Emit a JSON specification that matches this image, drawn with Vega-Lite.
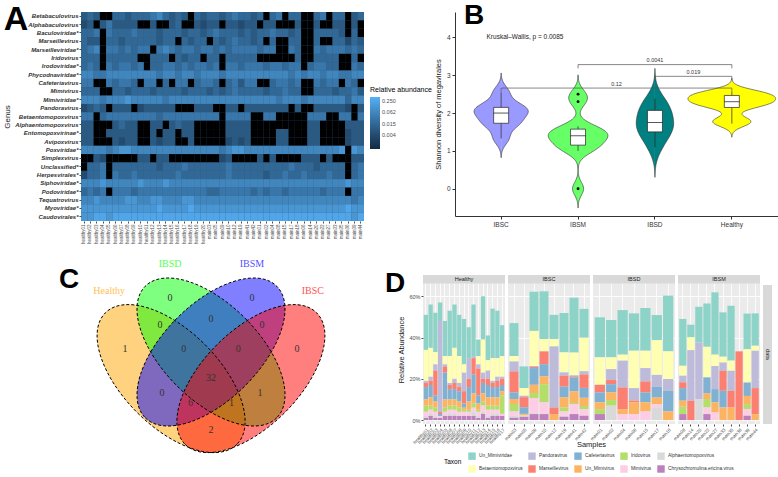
{
"$schema": "https://vega.github.io/schema/vega-lite/v6.json",
"padding": {"left": 3, "top": 2, "right": 0, "bottom": 0},
"config": {
  "font": "Liberation Sans",
  "view": {"stroke": null},
  "title": {"fontSize": 28, "fontWeight": "bold", "anchor": "start", "offset": 0, "color": "#000000"},
  "axis": {"labelColor": "#4D4D4D", "titleColor": "#1A1A1A", "titleFontWeight": "normal"},
  "legend": {"titleFontWeight": "normal"}
},
"datasets": {
"heat": [
{"r":1,"c":1,"v":4},{"r":1,"c":2,"v":5},{"r":1,"c":3,"v":4},{"r":1,"c":4,"v":0},{"r":1,"c":5,"v":0},{"r":1,"c":6,"v":5},{"r":1,"c":7,"v":5},{"r":1,"c":8,"v":4},{"r":1,"c":9,"v":5},{"r":1,"c":10,"v":5},{"r":1,"c":11,"v":5},{"r":1,"c":12,"v":6},{"r":1,"c":13,"v":7},{"r":1,"c":14,"v":5},{"r":1,"c":15,"v":4},{"r":1,"c":16,"v":5},{"r":1,"c":17,"v":4},{"r":1,"c":18,"v":0},{"r":1,"c":19,"v":5},{"r":1,"c":20,"v":4},{"r":1,"c":21,"v":5},{"r":1,"c":22,"v":5},{"r":1,"c":23,"v":4},{"r":1,"c":24,"v":5},{"r":1,"c":25,"v":6},{"r":1,"c":26,"v":5},{"r":1,"c":27,"v":5},{"r":1,"c":28,"v":4},{"r":1,"c":29,"v":5},{"r":1,"c":30,"v":0},{"r":1,"c":31,"v":5},{"r":1,"c":32,"v":6},{"r":1,"c":33,"v":0},{"r":1,"c":34,"v":5},{"r":1,"c":35,"v":5},{"r":1,"c":36,"v":0},{"r":1,"c":37,"v":0},{"r":1,"c":38,"v":5},{"r":1,"c":39,"v":6},{"r":1,"c":40,"v":0},{"r":1,"c":41,"v":5},{"r":1,"c":42,"v":5},{"r":1,"c":43,"v":0},{"r":1,"c":44,"v":4},{"r":1,"c":45,"v":5},
{"r":2,"c":1,"v":3},{"r":2,"c":2,"v":4},{"r":2,"c":3,"v":0},{"r":2,"c":4,"v":4},{"r":2,"c":5,"v":6},{"r":2,"c":6,"v":4},{"r":2,"c":7,"v":4},{"r":2,"c":8,"v":4},{"r":2,"c":9,"v":4},{"r":2,"c":10,"v":0},{"r":2,"c":11,"v":0},{"r":2,"c":12,"v":4},{"r":2,"c":13,"v":0},{"r":2,"c":14,"v":0},{"r":2,"c":15,"v":4},{"r":2,"c":16,"v":5},{"r":2,"c":17,"v":0},{"r":2,"c":18,"v":0},{"r":2,"c":19,"v":4},{"r":2,"c":20,"v":3},{"r":2,"c":21,"v":4},{"r":2,"c":22,"v":4},{"r":2,"c":23,"v":0},{"r":2,"c":24,"v":4},{"r":2,"c":25,"v":4},{"r":2,"c":26,"v":3},{"r":2,"c":27,"v":4},{"r":2,"c":28,"v":4},{"r":2,"c":29,"v":0},{"r":2,"c":30,"v":4},{"r":2,"c":31,"v":4},{"r":2,"c":32,"v":0},{"r":2,"c":33,"v":0},{"r":2,"c":34,"v":0},{"r":2,"c":35,"v":4},{"r":2,"c":36,"v":0},{"r":2,"c":37,"v":0},{"r":2,"c":38,"v":4},{"r":2,"c":39,"v":0},{"r":2,"c":40,"v":0},{"r":2,"c":41,"v":4},{"r":2,"c":42,"v":4},{"r":2,"c":43,"v":0},{"r":2,"c":44,"v":4},{"r":2,"c":45,"v":0},
{"r":3,"c":1,"v":5},{"r":3,"c":2,"v":5},{"r":3,"c":3,"v":6},{"r":3,"c":4,"v":0},{"r":3,"c":5,"v":6},{"r":3,"c":6,"v":5},{"r":3,"c":7,"v":5},{"r":3,"c":8,"v":5},{"r":3,"c":9,"v":6},{"r":3,"c":10,"v":5},{"r":3,"c":11,"v":5},{"r":3,"c":12,"v":5},{"r":3,"c":13,"v":4},{"r":3,"c":14,"v":5},{"r":3,"c":15,"v":5},{"r":3,"c":16,"v":5},{"r":3,"c":17,"v":4},{"r":3,"c":18,"v":5},{"r":3,"c":19,"v":5},{"r":3,"c":20,"v":4},{"r":3,"c":21,"v":5},{"r":3,"c":22,"v":6},{"r":3,"c":23,"v":5},{"r":3,"c":24,"v":5},{"r":3,"c":25,"v":5},{"r":3,"c":26,"v":4},{"r":3,"c":27,"v":5},{"r":3,"c":28,"v":4},{"r":3,"c":29,"v":5},{"r":3,"c":30,"v":5},{"r":3,"c":31,"v":6},{"r":3,"c":32,"v":5},{"r":3,"c":33,"v":5},{"r":3,"c":34,"v":4},{"r":3,"c":35,"v":5},{"r":3,"c":36,"v":0},{"r":3,"c":37,"v":0},{"r":3,"c":38,"v":5},{"r":3,"c":39,"v":5},{"r":3,"c":40,"v":5},{"r":3,"c":41,"v":5},{"r":3,"c":42,"v":4},{"r":3,"c":43,"v":0},{"r":3,"c":44,"v":5},{"r":3,"c":45,"v":0},
{"r":4,"c":1,"v":5},{"r":4,"c":2,"v":4},{"r":4,"c":3,"v":4},{"r":4,"c":4,"v":0},{"r":4,"c":5,"v":5},{"r":4,"c":6,"v":5},{"r":4,"c":7,"v":4},{"r":4,"c":8,"v":5},{"r":4,"c":9,"v":5},{"r":4,"c":10,"v":5},{"r":4,"c":11,"v":5},{"r":4,"c":12,"v":5},{"r":4,"c":13,"v":4},{"r":4,"c":14,"v":5},{"r":4,"c":15,"v":5},{"r":4,"c":16,"v":0},{"r":4,"c":17,"v":5},{"r":4,"c":18,"v":4},{"r":4,"c":19,"v":5},{"r":4,"c":20,"v":5},{"r":4,"c":21,"v":0},{"r":4,"c":22,"v":5},{"r":4,"c":23,"v":4},{"r":4,"c":24,"v":5},{"r":4,"c":25,"v":6},{"r":4,"c":26,"v":5},{"r":4,"c":27,"v":5},{"r":4,"c":28,"v":4},{"r":4,"c":29,"v":5},{"r":4,"c":30,"v":0},{"r":4,"c":31,"v":5},{"r":4,"c":32,"v":0},{"r":4,"c":33,"v":0},{"r":4,"c":34,"v":5},{"r":4,"c":35,"v":5},{"r":4,"c":36,"v":0},{"r":4,"c":37,"v":0},{"r":4,"c":38,"v":5},{"r":4,"c":39,"v":0},{"r":4,"c":40,"v":0},{"r":4,"c":41,"v":5},{"r":4,"c":42,"v":5},{"r":4,"c":43,"v":3},{"r":4,"c":44,"v":5},{"r":4,"c":45,"v":4},
{"r":5,"c":1,"v":5},{"r":5,"c":2,"v":6},{"r":5,"c":3,"v":7},{"r":5,"c":4,"v":0},{"r":5,"c":5,"v":6},{"r":5,"c":6,"v":6},{"r":5,"c":7,"v":5},{"r":5,"c":8,"v":6},{"r":5,"c":9,"v":5},{"r":5,"c":10,"v":6},{"r":5,"c":11,"v":6},{"r":5,"c":12,"v":0},{"r":5,"c":13,"v":6},{"r":5,"c":14,"v":7},{"r":5,"c":15,"v":6},{"r":5,"c":16,"v":5},{"r":5,"c":17,"v":6},{"r":5,"c":18,"v":6},{"r":5,"c":19,"v":5},{"r":5,"c":20,"v":6},{"r":5,"c":21,"v":6},{"r":5,"c":22,"v":5},{"r":5,"c":23,"v":6},{"r":5,"c":24,"v":5},{"r":5,"c":25,"v":6},{"r":5,"c":26,"v":6},{"r":5,"c":27,"v":6},{"r":5,"c":28,"v":6},{"r":5,"c":29,"v":5},{"r":5,"c":30,"v":6},{"r":5,"c":31,"v":6},{"r":5,"c":32,"v":0},{"r":5,"c":33,"v":0},{"r":5,"c":34,"v":6},{"r":5,"c":35,"v":5},{"r":5,"c":36,"v":0},{"r":5,"c":37,"v":0},{"r":5,"c":38,"v":6},{"r":5,"c":39,"v":5},{"r":5,"c":40,"v":6},{"r":5,"c":41,"v":6},{"r":5,"c":42,"v":6},{"r":5,"c":43,"v":5},{"r":5,"c":44,"v":6},{"r":5,"c":45,"v":5},
{"r":6,"c":1,"v":5},{"r":6,"c":2,"v":5},{"r":6,"c":3,"v":5},{"r":6,"c":4,"v":0},{"r":6,"c":5,"v":5},{"r":6,"c":6,"v":5},{"r":6,"c":7,"v":5},{"r":6,"c":8,"v":5},{"r":6,"c":9,"v":5},{"r":6,"c":10,"v":0},{"r":6,"c":11,"v":0},{"r":6,"c":12,"v":5},{"r":6,"c":13,"v":5},{"r":6,"c":14,"v":5},{"r":6,"c":15,"v":0},{"r":6,"c":16,"v":5},{"r":6,"c":17,"v":4},{"r":6,"c":18,"v":5},{"r":6,"c":19,"v":5},{"r":6,"c":20,"v":0},{"r":6,"c":21,"v":5},{"r":6,"c":22,"v":5},{"r":6,"c":23,"v":0},{"r":6,"c":24,"v":5},{"r":6,"c":25,"v":5},{"r":6,"c":26,"v":5},{"r":6,"c":27,"v":5},{"r":6,"c":28,"v":5},{"r":6,"c":29,"v":0},{"r":6,"c":30,"v":0},{"r":6,"c":31,"v":0},{"r":6,"c":32,"v":0},{"r":6,"c":33,"v":0},{"r":6,"c":34,"v":0},{"r":6,"c":35,"v":5},{"r":6,"c":36,"v":0},{"r":6,"c":37,"v":0},{"r":6,"c":38,"v":5},{"r":6,"c":39,"v":5},{"r":6,"c":40,"v":5},{"r":6,"c":41,"v":5},{"r":6,"c":42,"v":0},{"r":6,"c":43,"v":0},{"r":6,"c":44,"v":5},{"r":6,"c":45,"v":0},
{"r":7,"c":1,"v":5},{"r":7,"c":2,"v":6},{"r":7,"c":3,"v":5},{"r":7,"c":4,"v":0},{"r":7,"c":5,"v":6},{"r":7,"c":6,"v":5},{"r":7,"c":7,"v":6},{"r":7,"c":8,"v":6},{"r":7,"c":9,"v":5},{"r":7,"c":10,"v":6},{"r":7,"c":11,"v":0},{"r":7,"c":12,"v":5},{"r":7,"c":13,"v":5},{"r":7,"c":14,"v":6},{"r":7,"c":15,"v":6},{"r":7,"c":16,"v":5},{"r":7,"c":17,"v":6},{"r":7,"c":18,"v":5},{"r":7,"c":19,"v":6},{"r":7,"c":20,"v":6},{"r":7,"c":21,"v":5},{"r":7,"c":22,"v":6},{"r":7,"c":23,"v":0},{"r":7,"c":24,"v":6},{"r":7,"c":25,"v":6},{"r":7,"c":26,"v":5},{"r":7,"c":27,"v":6},{"r":7,"c":28,"v":6},{"r":7,"c":29,"v":6},{"r":7,"c":30,"v":5},{"r":7,"c":31,"v":6},{"r":7,"c":32,"v":6},{"r":7,"c":33,"v":5},{"r":7,"c":34,"v":6},{"r":7,"c":35,"v":6},{"r":7,"c":36,"v":0},{"r":7,"c":37,"v":5},{"r":7,"c":38,"v":6},{"r":7,"c":39,"v":6},{"r":7,"c":40,"v":5},{"r":7,"c":41,"v":5},{"r":7,"c":42,"v":0},{"r":7,"c":43,"v":0},{"r":7,"c":44,"v":6},{"r":7,"c":45,"v":5},
{"r":8,"c":1,"v":7},{"r":8,"c":2,"v":7},{"r":8,"c":3,"v":6},{"r":8,"c":4,"v":6},{"r":8,"c":5,"v":7},{"r":8,"c":6,"v":7},{"r":8,"c":7,"v":7},{"r":8,"c":8,"v":7},{"r":8,"c":9,"v":7},{"r":8,"c":10,"v":7},{"r":8,"c":11,"v":7},{"r":8,"c":12,"v":7},{"r":8,"c":13,"v":6},{"r":8,"c":14,"v":7},{"r":8,"c":15,"v":7},{"r":8,"c":16,"v":6},{"r":8,"c":17,"v":7},{"r":8,"c":18,"v":7},{"r":8,"c":19,"v":6},{"r":8,"c":20,"v":7},{"r":8,"c":21,"v":7},{"r":8,"c":22,"v":7},{"r":8,"c":23,"v":6},{"r":8,"c":24,"v":7},{"r":8,"c":25,"v":7},{"r":8,"c":26,"v":7},{"r":8,"c":27,"v":7},{"r":8,"c":28,"v":7},{"r":8,"c":29,"v":7},{"r":8,"c":30,"v":7},{"r":8,"c":31,"v":7},{"r":8,"c":32,"v":7},{"r":8,"c":33,"v":7},{"r":8,"c":34,"v":6},{"r":8,"c":35,"v":7},{"r":8,"c":36,"v":6},{"r":8,"c":37,"v":7},{"r":8,"c":38,"v":7},{"r":8,"c":39,"v":6},{"r":8,"c":40,"v":7},{"r":8,"c":41,"v":7},{"r":8,"c":42,"v":6},{"r":8,"c":43,"v":6},{"r":8,"c":44,"v":7},{"r":8,"c":45,"v":7},
{"r":9,"c":1,"v":6},{"r":9,"c":2,"v":6},{"r":9,"c":3,"v":0},{"r":9,"c":4,"v":0},{"r":9,"c":5,"v":6},{"r":9,"c":6,"v":5},{"r":9,"c":7,"v":6},{"r":9,"c":8,"v":6},{"r":9,"c":9,"v":5},{"r":9,"c":10,"v":0},{"r":9,"c":11,"v":6},{"r":9,"c":12,"v":6},{"r":9,"c":13,"v":0},{"r":9,"c":14,"v":5},{"r":9,"c":15,"v":0},{"r":9,"c":16,"v":6},{"r":9,"c":17,"v":6},{"r":9,"c":18,"v":0},{"r":9,"c":19,"v":5},{"r":9,"c":20,"v":6},{"r":9,"c":21,"v":6},{"r":9,"c":22,"v":5},{"r":9,"c":23,"v":0},{"r":9,"c":24,"v":5},{"r":9,"c":25,"v":6},{"r":9,"c":26,"v":4},{"r":9,"c":27,"v":6},{"r":9,"c":28,"v":6},{"r":9,"c":29,"v":0},{"r":9,"c":30,"v":0},{"r":9,"c":31,"v":5},{"r":9,"c":32,"v":6},{"r":9,"c":33,"v":6},{"r":9,"c":34,"v":5},{"r":9,"c":35,"v":6},{"r":9,"c":36,"v":0},{"r":9,"c":37,"v":0},{"r":9,"c":38,"v":6},{"r":9,"c":39,"v":5},{"r":9,"c":40,"v":6},{"r":9,"c":41,"v":6},{"r":9,"c":42,"v":0},{"r":9,"c":43,"v":6},{"r":9,"c":44,"v":5},{"r":9,"c":45,"v":0},
{"r":10,"c":1,"v":5},{"r":10,"c":2,"v":5},{"r":10,"c":3,"v":5},{"r":10,"c":4,"v":0},{"r":10,"c":5,"v":0},{"r":10,"c":6,"v":5},{"r":10,"c":7,"v":5},{"r":10,"c":8,"v":4},{"r":10,"c":9,"v":5},{"r":10,"c":10,"v":5},{"r":10,"c":11,"v":5},{"r":10,"c":12,"v":4},{"r":10,"c":13,"v":5},{"r":10,"c":14,"v":5},{"r":10,"c":15,"v":5},{"r":10,"c":16,"v":5},{"r":10,"c":17,"v":4},{"r":10,"c":18,"v":5},{"r":10,"c":19,"v":5},{"r":10,"c":20,"v":5},{"r":10,"c":21,"v":4},{"r":10,"c":22,"v":5},{"r":10,"c":23,"v":4},{"r":10,"c":24,"v":5},{"r":10,"c":25,"v":6},{"r":10,"c":26,"v":5},{"r":10,"c":27,"v":5},{"r":10,"c":28,"v":5},{"r":10,"c":29,"v":5},{"r":10,"c":30,"v":4},{"r":10,"c":31,"v":5},{"r":10,"c":32,"v":5},{"r":10,"c":33,"v":6},{"r":10,"c":34,"v":5},{"r":10,"c":35,"v":5},{"r":10,"c":36,"v":0},{"r":10,"c":37,"v":0},{"r":10,"c":38,"v":5},{"r":10,"c":39,"v":5},{"r":10,"c":40,"v":5},{"r":10,"c":41,"v":4},{"r":10,"c":42,"v":5},{"r":10,"c":43,"v":5},{"r":10,"c":44,"v":6},{"r":10,"c":45,"v":4},
{"r":11,"c":1,"v":7},{"r":11,"c":2,"v":7},{"r":11,"c":3,"v":7},{"r":11,"c":4,"v":6},{"r":11,"c":5,"v":7},{"r":11,"c":6,"v":7},{"r":11,"c":7,"v":7},{"r":11,"c":8,"v":8},{"r":11,"c":9,"v":7},{"r":11,"c":10,"v":7},{"r":11,"c":11,"v":7},{"r":11,"c":12,"v":7},{"r":11,"c":13,"v":7},{"r":11,"c":14,"v":6},{"r":11,"c":15,"v":7},{"r":11,"c":16,"v":7},{"r":11,"c":17,"v":7},{"r":11,"c":18,"v":7},{"r":11,"c":19,"v":7},{"r":11,"c":20,"v":7},{"r":11,"c":21,"v":7},{"r":11,"c":22,"v":7},{"r":11,"c":23,"v":7},{"r":11,"c":24,"v":7},{"r":11,"c":25,"v":7},{"r":11,"c":26,"v":7},{"r":11,"c":27,"v":7},{"r":11,"c":28,"v":7},{"r":11,"c":29,"v":7},{"r":11,"c":30,"v":7},{"r":11,"c":31,"v":7},{"r":11,"c":32,"v":6},{"r":11,"c":33,"v":7},{"r":11,"c":34,"v":7},{"r":11,"c":35,"v":7},{"r":11,"c":36,"v":6},{"r":11,"c":37,"v":7},{"r":11,"c":38,"v":7},{"r":11,"c":39,"v":7},{"r":11,"c":40,"v":7},{"r":11,"c":41,"v":7},{"r":11,"c":42,"v":7},{"r":11,"c":43,"v":5},{"r":11,"c":44,"v":7},{"r":11,"c":45,"v":7},
{"r":12,"c":1,"v":3},{"r":12,"c":2,"v":4},{"r":12,"c":3,"v":5},{"r":12,"c":4,"v":4},{"r":12,"c":5,"v":0},{"r":12,"c":6,"v":4},{"r":12,"c":7,"v":4},{"r":12,"c":8,"v":4},{"r":12,"c":9,"v":0},{"r":12,"c":10,"v":3},{"r":12,"c":11,"v":4},{"r":12,"c":12,"v":4},{"r":12,"c":13,"v":4},{"r":12,"c":14,"v":4},{"r":12,"c":15,"v":4},{"r":12,"c":16,"v":0},{"r":12,"c":17,"v":0},{"r":12,"c":18,"v":0},{"r":12,"c":19,"v":4},{"r":12,"c":20,"v":4},{"r":12,"c":21,"v":4},{"r":12,"c":22,"v":0},{"r":12,"c":23,"v":0},{"r":12,"c":24,"v":4},{"r":12,"c":25,"v":4},{"r":12,"c":26,"v":0},{"r":12,"c":27,"v":4},{"r":12,"c":28,"v":4},{"r":12,"c":29,"v":4},{"r":12,"c":30,"v":4},{"r":12,"c":31,"v":4},{"r":12,"c":32,"v":4},{"r":12,"c":33,"v":4},{"r":12,"c":34,"v":0},{"r":12,"c":35,"v":4},{"r":12,"c":36,"v":0},{"r":12,"c":37,"v":0},{"r":12,"c":38,"v":4},{"r":12,"c":39,"v":4},{"r":12,"c":40,"v":4},{"r":12,"c":41,"v":4},{"r":12,"c":42,"v":4},{"r":12,"c":43,"v":3},{"r":12,"c":44,"v":0},{"r":12,"c":45,"v":4},
{"r":13,"c":1,"v":6},{"r":13,"c":2,"v":6},{"r":13,"c":3,"v":0},{"r":13,"c":4,"v":5},{"r":13,"c":5,"v":6},{"r":13,"c":6,"v":6},{"r":13,"c":7,"v":6},{"r":13,"c":8,"v":6},{"r":13,"c":9,"v":6},{"r":13,"c":10,"v":6},{"r":13,"c":11,"v":6},{"r":13,"c":12,"v":6},{"r":13,"c":13,"v":5},{"r":13,"c":14,"v":6},{"r":13,"c":15,"v":6},{"r":13,"c":16,"v":6},{"r":13,"c":17,"v":6},{"r":13,"c":18,"v":6},{"r":13,"c":19,"v":6},{"r":13,"c":20,"v":6},{"r":13,"c":21,"v":6},{"r":13,"c":22,"v":6},{"r":13,"c":23,"v":0},{"r":13,"c":24,"v":6},{"r":13,"c":25,"v":6},{"r":13,"c":26,"v":6},{"r":13,"c":27,"v":6},{"r":13,"c":28,"v":0},{"r":13,"c":29,"v":0},{"r":13,"c":30,"v":6},{"r":13,"c":31,"v":6},{"r":13,"c":32,"v":0},{"r":13,"c":33,"v":0},{"r":13,"c":34,"v":0},{"r":13,"c":35,"v":0},{"r":13,"c":36,"v":0},{"r":13,"c":37,"v":6},{"r":13,"c":38,"v":6},{"r":13,"c":39,"v":6},{"r":13,"c":40,"v":0},{"r":13,"c":41,"v":0},{"r":13,"c":42,"v":6},{"r":13,"c":43,"v":6},{"r":13,"c":44,"v":0},{"r":13,"c":45,"v":6},
{"r":14,"c":1,"v":4},{"r":14,"c":2,"v":4},{"r":14,"c":3,"v":0},{"r":14,"c":4,"v":0},{"r":14,"c":5,"v":0},{"r":14,"c":6,"v":4},{"r":14,"c":7,"v":5},{"r":14,"c":8,"v":4},{"r":14,"c":9,"v":4},{"r":14,"c":10,"v":0},{"r":14,"c":11,"v":0},{"r":14,"c":12,"v":4},{"r":14,"c":13,"v":4},{"r":14,"c":14,"v":0},{"r":14,"c":15,"v":4},{"r":14,"c":16,"v":5},{"r":14,"c":17,"v":4},{"r":14,"c":18,"v":4},{"r":14,"c":19,"v":0},{"r":14,"c":20,"v":0},{"r":14,"c":21,"v":0},{"r":14,"c":22,"v":0},{"r":14,"c":23,"v":0},{"r":14,"c":24,"v":4},{"r":14,"c":25,"v":4},{"r":14,"c":26,"v":4},{"r":14,"c":27,"v":4},{"r":14,"c":28,"v":0},{"r":14,"c":29,"v":0},{"r":14,"c":30,"v":0},{"r":14,"c":31,"v":0},{"r":14,"c":32,"v":0},{"r":14,"c":33,"v":0},{"r":14,"c":34,"v":0},{"r":14,"c":35,"v":0},{"r":14,"c":36,"v":0},{"r":14,"c":37,"v":4},{"r":14,"c":38,"v":4},{"r":14,"c":39,"v":0},{"r":14,"c":40,"v":0},{"r":14,"c":41,"v":0},{"r":14,"c":42,"v":0},{"r":14,"c":43,"v":4},{"r":14,"c":44,"v":4},{"r":14,"c":45,"v":4},
{"r":15,"c":1,"v":4},{"r":15,"c":2,"v":4},{"r":15,"c":3,"v":0},{"r":15,"c":4,"v":0},{"r":15,"c":5,"v":4},{"r":15,"c":6,"v":4},{"r":15,"c":7,"v":4},{"r":15,"c":8,"v":4},{"r":15,"c":9,"v":4},{"r":15,"c":10,"v":0},{"r":15,"c":11,"v":0},{"r":15,"c":12,"v":4},{"r":15,"c":13,"v":0},{"r":15,"c":14,"v":4},{"r":15,"c":15,"v":4},{"r":15,"c":16,"v":0},{"r":15,"c":17,"v":4},{"r":15,"c":18,"v":4},{"r":15,"c":19,"v":0},{"r":15,"c":20,"v":0},{"r":15,"c":21,"v":0},{"r":15,"c":22,"v":0},{"r":15,"c":23,"v":0},{"r":15,"c":24,"v":4},{"r":15,"c":25,"v":4},{"r":15,"c":26,"v":4},{"r":15,"c":27,"v":4},{"r":15,"c":28,"v":0},{"r":15,"c":29,"v":0},{"r":15,"c":30,"v":0},{"r":15,"c":31,"v":0},{"r":15,"c":32,"v":4},{"r":15,"c":33,"v":4},{"r":15,"c":34,"v":0},{"r":15,"c":35,"v":0},{"r":15,"c":36,"v":0},{"r":15,"c":37,"v":4},{"r":15,"c":38,"v":4},{"r":15,"c":39,"v":0},{"r":15,"c":40,"v":0},{"r":15,"c":41,"v":0},{"r":15,"c":42,"v":0},{"r":15,"c":43,"v":3},{"r":15,"c":44,"v":4},{"r":15,"c":45,"v":4},
{"r":16,"c":1,"v":4},{"r":16,"c":2,"v":4},{"r":16,"c":3,"v":0},{"r":16,"c":4,"v":0},{"r":16,"c":5,"v":0},{"r":16,"c":6,"v":4},{"r":16,"c":7,"v":3},{"r":16,"c":8,"v":4},{"r":16,"c":9,"v":4},{"r":16,"c":10,"v":0},{"r":16,"c":11,"v":0},{"r":16,"c":12,"v":4},{"r":16,"c":13,"v":3},{"r":16,"c":14,"v":4},{"r":16,"c":15,"v":4},{"r":16,"c":16,"v":0},{"r":16,"c":17,"v":0},{"r":16,"c":18,"v":4},{"r":16,"c":19,"v":0},{"r":16,"c":20,"v":0},{"r":16,"c":21,"v":0},{"r":16,"c":22,"v":0},{"r":16,"c":23,"v":0},{"r":16,"c":24,"v":3},{"r":16,"c":25,"v":4},{"r":16,"c":26,"v":3},{"r":16,"c":27,"v":4},{"r":16,"c":28,"v":0},{"r":16,"c":29,"v":0},{"r":16,"c":30,"v":0},{"r":16,"c":31,"v":0},{"r":16,"c":32,"v":4},{"r":16,"c":33,"v":4},{"r":16,"c":34,"v":0},{"r":16,"c":35,"v":0},{"r":16,"c":36,"v":0},{"r":16,"c":37,"v":4},{"r":16,"c":38,"v":4},{"r":16,"c":39,"v":0},{"r":16,"c":40,"v":0},{"r":16,"c":41,"v":0},{"r":16,"c":42,"v":0},{"r":16,"c":43,"v":3},{"r":16,"c":44,"v":4},{"r":16,"c":45,"v":4},
{"r":17,"c":1,"v":7},{"r":17,"c":2,"v":7},{"r":17,"c":3,"v":7},{"r":17,"c":4,"v":7},{"r":17,"c":5,"v":6},{"r":17,"c":6,"v":7},{"r":17,"c":7,"v":8},{"r":17,"c":8,"v":8},{"r":17,"c":9,"v":7},{"r":17,"c":10,"v":7},{"r":17,"c":11,"v":7},{"r":17,"c":12,"v":7},{"r":17,"c":13,"v":7},{"r":17,"c":14,"v":7},{"r":17,"c":15,"v":7},{"r":17,"c":16,"v":7},{"r":17,"c":17,"v":7},{"r":17,"c":18,"v":7},{"r":17,"c":19,"v":7},{"r":17,"c":20,"v":7},{"r":17,"c":21,"v":7},{"r":17,"c":22,"v":7},{"r":17,"c":23,"v":6},{"r":17,"c":24,"v":7},{"r":17,"c":25,"v":8},{"r":17,"c":26,"v":8},{"r":17,"c":27,"v":7},{"r":17,"c":28,"v":7},{"r":17,"c":29,"v":7},{"r":17,"c":30,"v":7},{"r":17,"c":31,"v":7},{"r":17,"c":32,"v":7},{"r":17,"c":33,"v":7},{"r":17,"c":34,"v":7},{"r":17,"c":35,"v":7},{"r":17,"c":36,"v":7},{"r":17,"c":37,"v":7},{"r":17,"c":38,"v":7},{"r":17,"c":39,"v":7},{"r":17,"c":40,"v":7},{"r":17,"c":41,"v":7},{"r":17,"c":42,"v":8},{"r":17,"c":43,"v":0},{"r":17,"c":44,"v":8},{"r":17,"c":45,"v":7},
{"r":18,"c":1,"v":0},{"r":18,"c":2,"v":0},{"r":18,"c":3,"v":4},{"r":18,"c":4,"v":3},{"r":18,"c":5,"v":0},{"r":18,"c":6,"v":0},{"r":18,"c":7,"v":0},{"r":18,"c":8,"v":0},{"r":18,"c":9,"v":0},{"r":18,"c":10,"v":4},{"r":18,"c":11,"v":4},{"r":18,"c":12,"v":0},{"r":18,"c":13,"v":4},{"r":18,"c":14,"v":4},{"r":18,"c":15,"v":0},{"r":18,"c":16,"v":0},{"r":18,"c":17,"v":0},{"r":18,"c":18,"v":0},{"r":18,"c":19,"v":0},{"r":18,"c":20,"v":0},{"r":18,"c":21,"v":0},{"r":18,"c":22,"v":0},{"r":18,"c":23,"v":3},{"r":18,"c":24,"v":4},{"r":18,"c":25,"v":0},{"r":18,"c":26,"v":0},{"r":18,"c":27,"v":0},{"r":18,"c":28,"v":0},{"r":18,"c":29,"v":4},{"r":18,"c":30,"v":0},{"r":18,"c":31,"v":4},{"r":18,"c":32,"v":0},{"r":18,"c":33,"v":0},{"r":18,"c":34,"v":0},{"r":18,"c":35,"v":0},{"r":18,"c":36,"v":4},{"r":18,"c":37,"v":4},{"r":18,"c":38,"v":4},{"r":18,"c":39,"v":0},{"r":18,"c":40,"v":4},{"r":18,"c":41,"v":0},{"r":18,"c":42,"v":0},{"r":18,"c":43,"v":0},{"r":18,"c":44,"v":4},{"r":18,"c":45,"v":4},
{"r":19,"c":1,"v":0},{"r":19,"c":2,"v":5},{"r":19,"c":3,"v":5},{"r":19,"c":4,"v":6},{"r":19,"c":5,"v":0},{"r":19,"c":6,"v":5},{"r":19,"c":7,"v":5},{"r":19,"c":8,"v":5},{"r":19,"c":9,"v":5},{"r":19,"c":10,"v":5},{"r":19,"c":11,"v":5},{"r":19,"c":12,"v":5},{"r":19,"c":13,"v":4},{"r":19,"c":14,"v":5},{"r":19,"c":15,"v":5},{"r":19,"c":16,"v":5},{"r":19,"c":17,"v":6},{"r":19,"c":18,"v":5},{"r":19,"c":19,"v":5},{"r":19,"c":20,"v":5},{"r":19,"c":21,"v":5},{"r":19,"c":22,"v":5},{"r":19,"c":23,"v":5},{"r":19,"c":24,"v":6},{"r":19,"c":25,"v":5},{"r":19,"c":26,"v":5},{"r":19,"c":27,"v":5},{"r":19,"c":28,"v":5},{"r":19,"c":29,"v":5},{"r":19,"c":30,"v":5},{"r":19,"c":31,"v":5},{"r":19,"c":32,"v":5},{"r":19,"c":33,"v":5},{"r":19,"c":34,"v":6},{"r":19,"c":35,"v":5},{"r":19,"c":36,"v":5},{"r":19,"c":37,"v":5},{"r":19,"c":38,"v":4},{"r":19,"c":39,"v":5},{"r":19,"c":40,"v":5},{"r":19,"c":41,"v":5},{"r":19,"c":42,"v":5},{"r":19,"c":43,"v":0},{"r":19,"c":44,"v":5},{"r":19,"c":45,"v":6},
{"r":20,"c":1,"v":3},{"r":20,"c":2,"v":5},{"r":20,"c":3,"v":5},{"r":20,"c":4,"v":6},{"r":20,"c":5,"v":0},{"r":20,"c":6,"v":6},{"r":20,"c":7,"v":5},{"r":20,"c":8,"v":5},{"r":20,"c":9,"v":6},{"r":20,"c":10,"v":5},{"r":20,"c":11,"v":5},{"r":20,"c":12,"v":5},{"r":20,"c":13,"v":5},{"r":20,"c":14,"v":5},{"r":20,"c":15,"v":5},{"r":20,"c":16,"v":6},{"r":20,"c":17,"v":5},{"r":20,"c":18,"v":5},{"r":20,"c":19,"v":5},{"r":20,"c":20,"v":5},{"r":20,"c":21,"v":5},{"r":20,"c":22,"v":5},{"r":20,"c":23,"v":5},{"r":20,"c":24,"v":6},{"r":20,"c":25,"v":5},{"r":20,"c":26,"v":5},{"r":20,"c":27,"v":5},{"r":20,"c":28,"v":5},{"r":20,"c":29,"v":5},{"r":20,"c":30,"v":4},{"r":20,"c":31,"v":5},{"r":20,"c":32,"v":5},{"r":20,"c":33,"v":6},{"r":20,"c":34,"v":5},{"r":20,"c":35,"v":5},{"r":20,"c":36,"v":6},{"r":20,"c":37,"v":5},{"r":20,"c":38,"v":5},{"r":20,"c":39,"v":5},{"r":20,"c":40,"v":6},{"r":20,"c":41,"v":5},{"r":20,"c":42,"v":5},{"r":20,"c":43,"v":0},{"r":20,"c":44,"v":5},{"r":20,"c":45,"v":6},
{"r":21,"c":1,"v":7},{"r":21,"c":2,"v":7},{"r":21,"c":3,"v":7},{"r":21,"c":4,"v":8},{"r":21,"c":5,"v":7},{"r":21,"c":6,"v":7},{"r":21,"c":7,"v":7},{"r":21,"c":8,"v":7},{"r":21,"c":9,"v":7},{"r":21,"c":10,"v":8},{"r":21,"c":11,"v":7},{"r":21,"c":12,"v":7},{"r":21,"c":13,"v":7},{"r":21,"c":14,"v":8},{"r":21,"c":15,"v":7},{"r":21,"c":16,"v":7},{"r":21,"c":17,"v":7},{"r":21,"c":18,"v":7},{"r":21,"c":19,"v":7},{"r":21,"c":20,"v":7},{"r":21,"c":21,"v":7},{"r":21,"c":22,"v":7},{"r":21,"c":23,"v":7},{"r":21,"c":24,"v":7},{"r":21,"c":25,"v":7},{"r":21,"c":26,"v":7},{"r":21,"c":27,"v":7},{"r":21,"c":28,"v":7},{"r":21,"c":29,"v":7},{"r":21,"c":30,"v":7},{"r":21,"c":31,"v":7},{"r":21,"c":32,"v":7},{"r":21,"c":33,"v":7},{"r":21,"c":34,"v":7},{"r":21,"c":35,"v":7},{"r":21,"c":36,"v":7},{"r":21,"c":37,"v":7},{"r":21,"c":38,"v":7},{"r":21,"c":39,"v":7},{"r":21,"c":40,"v":7},{"r":21,"c":41,"v":7},{"r":21,"c":42,"v":7},{"r":21,"c":43,"v":8},{"r":21,"c":44,"v":7},{"r":21,"c":45,"v":7},
{"r":22,"c":1,"v":5},{"r":22,"c":2,"v":6},{"r":22,"c":3,"v":5},{"r":22,"c":4,"v":6},{"r":22,"c":5,"v":0},{"r":22,"c":6,"v":6},{"r":22,"c":7,"v":6},{"r":22,"c":8,"v":6},{"r":22,"c":9,"v":5},{"r":22,"c":10,"v":6},{"r":22,"c":11,"v":6},{"r":22,"c":12,"v":6},{"r":22,"c":13,"v":6},{"r":22,"c":14,"v":6},{"r":22,"c":15,"v":6},{"r":22,"c":16,"v":6},{"r":22,"c":17,"v":6},{"r":22,"c":18,"v":6},{"r":22,"c":19,"v":6},{"r":22,"c":20,"v":6},{"r":22,"c":21,"v":5},{"r":22,"c":22,"v":5},{"r":22,"c":23,"v":6},{"r":22,"c":24,"v":6},{"r":22,"c":25,"v":6},{"r":22,"c":26,"v":6},{"r":22,"c":27,"v":6},{"r":22,"c":28,"v":5},{"r":22,"c":29,"v":6},{"r":22,"c":30,"v":5},{"r":22,"c":31,"v":6},{"r":22,"c":32,"v":6},{"r":22,"c":33,"v":5},{"r":22,"c":34,"v":6},{"r":22,"c":35,"v":6},{"r":22,"c":36,"v":6},{"r":22,"c":37,"v":6},{"r":22,"c":38,"v":6},{"r":22,"c":39,"v":5},{"r":22,"c":40,"v":6},{"r":22,"c":41,"v":6},{"r":22,"c":42,"v":6},{"r":22,"c":43,"v":0},{"r":22,"c":44,"v":6},{"r":22,"c":45,"v":6},
{"r":23,"c":1,"v":7},{"r":23,"c":2,"v":7},{"r":23,"c":3,"v":8},{"r":23,"c":4,"v":7},{"r":23,"c":5,"v":7},{"r":23,"c":6,"v":7},{"r":23,"c":7,"v":7},{"r":23,"c":8,"v":8},{"r":23,"c":9,"v":8},{"r":23,"c":10,"v":7},{"r":23,"c":11,"v":7},{"r":23,"c":12,"v":8},{"r":23,"c":13,"v":8},{"r":23,"c":14,"v":7},{"r":23,"c":15,"v":7},{"r":23,"c":16,"v":7},{"r":23,"c":17,"v":8},{"r":23,"c":18,"v":8},{"r":23,"c":19,"v":7},{"r":23,"c":20,"v":7},{"r":23,"c":21,"v":7},{"r":23,"c":22,"v":7},{"r":23,"c":23,"v":7},{"r":23,"c":24,"v":7},{"r":23,"c":25,"v":7},{"r":23,"c":26,"v":7},{"r":23,"c":27,"v":7},{"r":23,"c":28,"v":7},{"r":23,"c":29,"v":7},{"r":23,"c":30,"v":7},{"r":23,"c":31,"v":7},{"r":23,"c":32,"v":7},{"r":23,"c":33,"v":7},{"r":23,"c":34,"v":7},{"r":23,"c":35,"v":7},{"r":23,"c":36,"v":7},{"r":23,"c":37,"v":7},{"r":23,"c":38,"v":7},{"r":23,"c":39,"v":7},{"r":23,"c":40,"v":7},{"r":23,"c":41,"v":7},{"r":23,"c":42,"v":7},{"r":23,"c":43,"v":7},{"r":23,"c":44,"v":6},{"r":23,"c":45,"v":7},
{"r":24,"c":1,"v":8},{"r":24,"c":2,"v":8},{"r":24,"c":3,"v":8},{"r":24,"c":4,"v":8},{"r":24,"c":5,"v":8},{"r":24,"c":6,"v":8},{"r":24,"c":7,"v":8},{"r":24,"c":8,"v":8},{"r":24,"c":9,"v":8},{"r":24,"c":10,"v":8},{"r":24,"c":11,"v":8},{"r":24,"c":12,"v":8},{"r":24,"c":13,"v":9},{"r":24,"c":14,"v":8},{"r":24,"c":15,"v":8},{"r":24,"c":16,"v":8},{"r":24,"c":17,"v":8},{"r":24,"c":18,"v":9},{"r":24,"c":19,"v":8},{"r":24,"c":20,"v":8},{"r":24,"c":21,"v":8},{"r":24,"c":22,"v":8},{"r":24,"c":23,"v":8},{"r":24,"c":24,"v":8},{"r":24,"c":25,"v":8},{"r":24,"c":26,"v":8},{"r":24,"c":27,"v":8},{"r":24,"c":28,"v":8},{"r":24,"c":29,"v":8},{"r":24,"c":30,"v":8},{"r":24,"c":31,"v":8},{"r":24,"c":32,"v":8},{"r":24,"c":33,"v":8},{"r":24,"c":34,"v":8},{"r":24,"c":35,"v":8},{"r":24,"c":36,"v":8},{"r":24,"c":37,"v":8},{"r":24,"c":38,"v":8},{"r":24,"c":39,"v":8},{"r":24,"c":40,"v":8},{"r":24,"c":41,"v":8},{"r":24,"c":42,"v":8},{"r":24,"c":43,"v":9},{"r":24,"c":44,"v":8},{"r":24,"c":45,"v":8},
{"r":25,"c":1,"v":8},{"r":25,"c":2,"v":8},{"r":25,"c":3,"v":9},{"r":25,"c":4,"v":9},{"r":25,"c":5,"v":8},{"r":25,"c":6,"v":9},{"r":25,"c":7,"v":9},{"r":25,"c":8,"v":9},{"r":25,"c":9,"v":9},{"r":25,"c":10,"v":9},{"r":25,"c":11,"v":9},{"r":25,"c":12,"v":9},{"r":25,"c":13,"v":9},{"r":25,"c":14,"v":9},{"r":25,"c":15,"v":9},{"r":25,"c":16,"v":9},{"r":25,"c":17,"v":9},{"r":25,"c":18,"v":9},{"r":25,"c":19,"v":9},{"r":25,"c":20,"v":9},{"r":25,"c":21,"v":9},{"r":25,"c":22,"v":9},{"r":25,"c":23,"v":9},{"r":25,"c":24,"v":9},{"r":25,"c":25,"v":9},{"r":25,"c":26,"v":9},{"r":25,"c":27,"v":9},{"r":25,"c":28,"v":9},{"r":25,"c":29,"v":9},{"r":25,"c":30,"v":9},{"r":25,"c":31,"v":9},{"r":25,"c":32,"v":9},{"r":25,"c":33,"v":9},{"r":25,"c":34,"v":9},{"r":25,"c":35,"v":9},{"r":25,"c":36,"v":9},{"r":25,"c":37,"v":9},{"r":25,"c":38,"v":9},{"r":25,"c":39,"v":9},{"r":25,"c":40,"v":9},{"r":25,"c":41,"v":9},{"r":25,"c":42,"v":9},{"r":25,"c":43,"v":9},{"r":25,"c":44,"v":8},{"r":25,"c":45,"v":9}
],
"samples": [
{"g":"IBSC","val":1.33},{"g":"IBSC","val":1.7},{"g":"IBSC","val":1.74},{"g":"IBSC","val":1.97},{"g":"IBSC","val":2.03},{"g":"IBSC","val":2.13},{"g":"IBSC","val":2.21},{"g":"IBSC","val":2.55},
{"g":"IBSM","val":0},{"g":"IBSM","val":1.0},{"g":"IBSM","val":1.1},{"g":"IBSM","val":1.17},{"g":"IBSM","val":1.3},{"g":"IBSM","val":1.38},{"g":"IBSM","val":1.42},{"g":"IBSM","val":1.5},{"g":"IBSM","val":1.55},{"g":"IBSM","val":1.65},{"g":"IBSM","val":2.3},{"g":"IBSM","val":2.5},
{"g":"IBSD","val":1.1},{"g":"IBSD","val":1.45},{"g":"IBSD","val":1.52},{"g":"IBSD","val":1.7},{"g":"IBSD","val":1.8},{"g":"IBSD","val":2.05},{"g":"IBSD","val":2.13},{"g":"IBSD","val":2.38},
{"g":"Healthy","val":1.72},{"g":"Healthy","val":1.75},{"g":"Healthy","val":1.78},{"g":"Healthy","val":1.85},{"g":"Healthy","val":2.13},{"g":"Healthy","val":2.2},{"g":"Healthy","val":2.22},{"g":"Healthy","val":2.26},{"g":"Healthy","val":2.29},{"g":"Healthy","val":2.31},{"g":"Healthy","val":2.35},{"g":"Healthy","val":2.38},{"g":"Healthy","val":2.42},{"g":"Healthy","val":2.48},{"g":"Healthy","val":2.5},{"g":"Healthy","val":2.52},{"g":"Healthy","val":2.54},{"g":"Healthy","val":2.56}
],
"tax": [
{"s":"healthy01","g":"Healthy","t":1,"v":0.17},{"s":"healthy01","g":"Healthy","t":2,"v":0.15},{"s":"healthy01","g":"Healthy","t":3,"v":0.01},{"s":"healthy01","g":"Healthy","t":4,"v":0.02},{"s":"healthy01","g":"Healthy","t":5,"v":0.06},{"s":"healthy01","g":"Healthy","t":6,"v":0.03},{"s":"healthy01","g":"Healthy","t":7,"v":0.03},{"s":"healthy01","g":"Healthy","t":8,"v":0.02},{"s":"healthy01","g":"Healthy","t":9,"v":0.01},{"s":"healthy01","g":"Healthy","t":10,"v":0.01},
{"s":"healthy02","g":"Healthy","t":1,"v":0.21},{"s":"healthy02","g":"Healthy","t":2,"v":0.14},{"s":"healthy02","g":"Healthy","t":3,"v":0.02},{"s":"healthy02","g":"Healthy","t":4,"v":0.02},{"s":"healthy02","g":"Healthy","t":5,"v":0.06},{"s":"healthy02","g":"Healthy","t":6,"v":0.04},{"s":"healthy02","g":"Healthy","t":7,"v":0.02},{"s":"healthy02","g":"Healthy","t":8,"v":0.02},{"s":"healthy02","g":"Healthy","t":9,"v":0.01},{"s":"healthy02","g":"Healthy","t":10,"v":0.02},
{"s":"healthy03","g":"Healthy","t":1,"v":0.19},{"s":"healthy03","g":"Healthy","t":2,"v":0.06},{"s":"healthy03","g":"Healthy","t":3,"v":0.03},{"s":"healthy03","g":"Healthy","t":4,"v":0.12},{"s":"healthy03","g":"Healthy","t":5,"v":0.03},{"s":"healthy03","g":"Healthy","t":6,"v":0.03},{"s":"healthy03","g":"Healthy","t":7,"v":0.02},{"s":"healthy03","g":"Healthy","t":8,"v":0.02},{"s":"healthy03","g":"Healthy","t":9,"v":0.01},{"s":"healthy03","g":"Healthy","t":10,"v":0.01},
{"s":"healthy04","g":"Healthy","t":1,"v":0.09},{"s":"healthy04","g":"Healthy","t":3,"v":0.44},{"s":"healthy04","g":"Healthy","t":4,"v":0.01},{"s":"healthy04","g":"Healthy","t":5,"v":0.01},{"s":"healthy04","g":"Healthy","t":8,"v":0.01},{"s":"healthy04","g":"Healthy","t":10,"v":0.01},
{"s":"healthy05","g":"Healthy","t":1,"v":0.17},{"s":"healthy05","g":"Healthy","t":2,"v":0.04},{"s":"healthy05","g":"Healthy","t":3,"v":0.01},{"s":"healthy05","g":"Healthy","t":4,"v":0.03},{"s":"healthy05","g":"Healthy","t":5,"v":0.13},{"s":"healthy05","g":"Healthy","t":6,"v":0.04},{"s":"healthy05","g":"Healthy","t":7,"v":0.02},{"s":"healthy05","g":"Healthy","t":8,"v":0.02},{"s":"healthy05","g":"Healthy","t":10,"v":0.02},
{"s":"healthy06","g":"Healthy","t":1,"v":0.22},{"s":"healthy06","g":"Healthy","t":2,"v":0.13},{"s":"healthy06","g":"Healthy","t":3,"v":0.01},{"s":"healthy06","g":"Healthy","t":4,"v":0.02},{"s":"healthy06","g":"Healthy","t":5,"v":0.05},{"s":"healthy06","g":"Healthy","t":6,"v":0.03},{"s":"healthy06","g":"Healthy","t":7,"v":0.02},{"s":"healthy06","g":"Healthy","t":8,"v":0.02},{"s":"healthy06","g":"Healthy","t":9,"v":0.01},{"s":"healthy06","g":"Healthy","t":10,"v":0.02},
{"s":"healthy07","g":"Healthy","t":1,"v":0.21},{"s":"healthy07","g":"Healthy","t":2,"v":0.15},{"s":"healthy07","g":"Healthy","t":3,"v":0.02},{"s":"healthy07","g":"Healthy","t":4,"v":0.03},{"s":"healthy07","g":"Healthy","t":5,"v":0.05},{"s":"healthy07","g":"Healthy","t":6,"v":0.03},{"s":"healthy07","g":"Healthy","t":7,"v":0.02},{"s":"healthy07","g":"Healthy","t":8,"v":0.02},{"s":"healthy07","g":"Healthy","t":9,"v":0.01},{"s":"healthy07","g":"Healthy","t":10,"v":0.02},
{"s":"healthy08","g":"Healthy","t":1,"v":0.20},{"s":"healthy08","g":"Healthy","t":2,"v":0.13},{"s":"healthy08","g":"Healthy","t":3,"v":0.02},{"s":"healthy08","g":"Healthy","t":4,"v":0.02},{"s":"healthy08","g":"Healthy","t":5,"v":0.05},{"s":"healthy08","g":"Healthy","t":6,"v":0.03},{"s":"healthy08","g":"Healthy","t":7,"v":0.02},{"s":"healthy08","g":"Healthy","t":8,"v":0.02},{"s":"healthy08","g":"Healthy","t":10,"v":0.02},
{"s":"healthy09","g":"Healthy","t":1,"v":0.22},{"s":"healthy09","g":"Healthy","t":2,"v":0.04},{"s":"healthy09","g":"Healthy","t":3,"v":0.09},{"s":"healthy09","g":"Healthy","t":4,"v":0.06},{"s":"healthy09","g":"Healthy","t":5,"v":0.02},{"s":"healthy09","g":"Healthy","t":6,"v":0.01},{"s":"healthy09","g":"Healthy","t":7,"v":0.01},{"s":"healthy09","g":"Healthy","t":8,"v":0.02},{"s":"healthy09","g":"Healthy","t":10,"v":0.02},
{"s":"healthy10","g":"Healthy","t":1,"v":0.15},{"s":"healthy10","g":"Healthy","t":3,"v":0.10},{"s":"healthy10","g":"Healthy","t":4,"v":0.04},{"s":"healthy10","g":"Healthy","t":5,"v":0.07},{"s":"healthy10","g":"Healthy","t":6,"v":0.04},{"s":"healthy10","g":"Healthy","t":7,"v":0.01},{"s":"healthy10","g":"Healthy","t":8,"v":0.02},{"s":"healthy10","g":"Healthy","t":10,"v":0.02},
{"s":"healthy11","g":"Healthy","t":1,"v":0.25},{"s":"healthy11","g":"Healthy","t":3,"v":0.01},{"s":"healthy11","g":"Healthy","t":4,"v":0.08},{"s":"healthy11","g":"Healthy","t":5,"v":0.09},{"s":"healthy11","g":"Healthy","t":6,"v":0.05},{"s":"healthy11","g":"Healthy","t":7,"v":0.02},{"s":"healthy11","g":"Healthy","t":8,"v":0.02},{"s":"healthy11","g":"Healthy","t":9,"v":0.02},{"s":"healthy11","g":"Healthy","t":10,"v":0.02},
{"s":"healthy12","g":"Healthy","t":1,"v":0.08},{"s":"healthy12","g":"Healthy","t":2,"v":0.04},{"s":"healthy12","g":"Healthy","t":3,"v":0.02},{"s":"healthy12","g":"Healthy","t":4,"v":0.13},{"s":"healthy12","g":"Healthy","t":5,"v":0.04},{"s":"healthy12","g":"Healthy","t":6,"v":0.03},{"s":"healthy12","g":"Healthy","t":7,"v":0.01},{"s":"healthy12","g":"Healthy","t":8,"v":0.02},{"s":"healthy12","g":"Healthy","t":9,"v":0.01},{"s":"healthy12","g":"Healthy","t":10,"v":0.01},
{"s":"healthy13","g":"Healthy","t":1,"v":0.21},{"s":"healthy13","g":"Healthy","t":2,"v":0.16},{"s":"healthy13","g":"Healthy","t":3,"v":0.03},{"s":"healthy13","g":"Healthy","t":4,"v":0.02},{"s":"healthy13","g":"Healthy","t":5,"v":0.05},{"s":"healthy13","g":"Healthy","t":6,"v":0.04},{"s":"healthy13","g":"Healthy","t":7,"v":0.02},{"s":"healthy13","g":"Healthy","t":8,"v":0.03},{"s":"healthy13","g":"Healthy","t":9,"v":0.01},{"s":"healthy13","g":"Healthy","t":10,"v":0.03},
{"s":"healthy14","g":"Healthy","t":1,"v":0.12},{"s":"healthy14","g":"Healthy","t":2,"v":0.05},{"s":"healthy14","g":"Healthy","t":3,"v":0.04},{"s":"healthy14","g":"Healthy","t":4,"v":0.03},{"s":"healthy14","g":"Healthy","t":5,"v":0.06},{"s":"healthy14","g":"Healthy","t":6,"v":0.04},{"s":"healthy14","g":"Healthy","t":7,"v":0.02},{"s":"healthy14","g":"Healthy","t":8,"v":0.03},{"s":"healthy14","g":"Healthy","t":9,"v":0.01},{"s":"healthy14","g":"Healthy","t":10,"v":0.01},
{"s":"healthy15","g":"Healthy","t":1,"v":0.24},{"s":"healthy15","g":"Healthy","t":2,"v":0.11},{"s":"healthy15","g":"Healthy","t":3,"v":0.01},{"s":"healthy15","g":"Healthy","t":4,"v":0.02},{"s":"healthy15","g":"Healthy","t":5,"v":0.05},{"s":"healthy15","g":"Healthy","t":6,"v":0.04},{"s":"healthy15","g":"Healthy","t":7,"v":0.02},{"s":"healthy15","g":"Healthy","t":8,"v":0.02},{"s":"healthy15","g":"Healthy","t":9,"v":0.01},{"s":"healthy15","g":"Healthy","t":10,"v":0.02},
{"s":"healthy16","g":"Healthy","t":1,"v":0.23},{"s":"healthy16","g":"Healthy","t":2,"v":0.09},{"s":"healthy16","g":"Healthy","t":3,"v":0.02},{"s":"healthy16","g":"Healthy","t":4,"v":0.03},{"s":"healthy16","g":"Healthy","t":5,"v":0.05},{"s":"healthy16","g":"Healthy","t":6,"v":0.04},{"s":"healthy16","g":"Healthy","t":7,"v":0.02},{"s":"healthy16","g":"Healthy","t":8,"v":0.02},{"s":"healthy16","g":"Healthy","t":9,"v":0.01},{"s":"healthy16","g":"Healthy","t":10,"v":0.02},
{"s":"healthy17","g":"Healthy","t":1,"v":0.15},{"s":"healthy17","g":"Healthy","t":2,"v":0.10},{"s":"healthy17","g":"Healthy","t":3,"v":0.01},{"s":"healthy17","g":"Healthy","t":4,"v":0.03},{"s":"healthy17","g":"Healthy","t":5,"v":0.03},{"s":"healthy17","g":"Healthy","t":6,"v":0.02},{"s":"healthy17","g":"Healthy","t":7,"v":0.09},{"s":"healthy17","g":"Healthy","t":8,"v":0.01},{"s":"healthy17","g":"Healthy","t":10,"v":0.02},
{"s":"main03","g":"IBSC","t":1,"v":0.16},{"s":"main03","g":"IBSC","t":2,"v":0.026},{"s":"main03","g":"IBSC","t":3,"v":0.048},{"s":"main03","g":"IBSC","t":4,"v":0.102},{"s":"main03","g":"IBSC","t":5,"v":0.032},{"s":"main03","g":"IBSC","t":6,"v":0.024},{"s":"main03","g":"IBSC","t":7,"v":0.036},{"s":"main03","g":"IBSC","t":8,"v":0.021},{"s":"main03","g":"IBSC","t":9,"v":0.01},{"s":"main03","g":"IBSC","t":10,"v":0.011},
{"s":"main05","g":"IBSC","t":1,"v":0.105},{"s":"main05","g":"IBSC","t":2,"v":0.037},{"s":"main05","g":"IBSC","t":3,"v":0.007},{"s":"main05","g":"IBSC","t":4,"v":0.049},{"s":"main05","g":"IBSC","t":5,"v":0.032},{"s":"main05","g":"IBSC","t":6,"v":0.005},{"s":"main05","g":"IBSC","t":7,"v":0.003},{"s":"main05","g":"IBSC","t":8,"v":0.004},{"s":"main05","g":"IBSC","t":9,"v":0.002},{"s":"main05","g":"IBSC","t":10,"v":0.016},
{"s":"main09","g":"IBSC","t":1,"v":0.19},{"s":"main09","g":"IBSC","t":2,"v":0.17},{"s":"main09","g":"IBSC","t":3,"v":0.005},{"s":"main09","g":"IBSC","t":4,"v":0.005},{"s":"main09","g":"IBSC","t":5,"v":0.081},{"s":"main09","g":"IBSC","t":6,"v":0.04},{"s":"main09","g":"IBSC","t":7,"v":0.024},{"s":"main09","g":"IBSC","t":8,"v":0.073},{"s":"main09","g":"IBSC","t":9,"v":0.005},{"s":"main09","g":"IBSC","t":10,"v":0.029},
{"s":"main10","g":"IBSC","t":1,"v":0.231},{"s":"main10","g":"IBSC","t":2,"v":0.06},{"s":"main10","g":"IBSC","t":4,"v":0.062},{"s":"main10","g":"IBSC","t":5,"v":0.059},{"s":"main10","g":"IBSC","t":6,"v":0.038},{"s":"main10","g":"IBSC","t":7,"v":0.088},{"s":"main10","g":"IBSC","t":8,"v":0.057},{"s":"main10","g":"IBSC","t":10,"v":0.029},
{"s":"main12","g":"IBSC","t":1,"v":0.117},{"s":"main12","g":"IBSC","t":2,"v":0.036},{"s":"main12","g":"IBSC","t":3,"v":0.296},{"s":"main12","g":"IBSC","t":4,"v":0.032},{"s":"main12","g":"IBSC","t":6,"v":0.029},
{"s":"main19","g":"IBSC","t":1,"v":0.191},{"s":"main19","g":"IBSC","t":2,"v":0.097},{"s":"main19","g":"IBSC","t":3,"v":0.016},{"s":"main19","g":"IBSC","t":4,"v":0.053},{"s":"main19","g":"IBSC","t":5,"v":0.052},{"s":"main19","g":"IBSC","t":6,"v":0.049},{"s":"main19","g":"IBSC","t":7,"v":0.019},{"s":"main19","g":"IBSC","t":8,"v":0.021},{"s":"main19","g":"IBSC","t":9,"v":0.005},{"s":"main19","g":"IBSC","t":10,"v":0.016},
{"s":"main41","g":"IBSC","t":1,"v":0.266},{"s":"main41","g":"IBSC","t":2,"v":0.11},{"s":"main41","g":"IBSC","t":3,"v":0.005},{"s":"main41","g":"IBSC","t":4,"v":0.005},{"s":"main41","g":"IBSC","t":5,"v":0.068},{"s":"main41","g":"IBSC","t":6,"v":0.056},{"s":"main41","g":"IBSC","t":7,"v":0.005},{"s":"main41","g":"IBSC","t":8,"v":0.049},{"s":"main41","g":"IBSC","t":10,"v":0.029},
{"s":"main42","g":"IBSC","t":1,"v":0.14},{"s":"main42","g":"IBSC","t":2,"v":0.162},{"s":"main42","g":"IBSC","t":3,"v":0.016},{"s":"main42","g":"IBSC","t":4,"v":0.065},{"s":"main42","g":"IBSC","t":5,"v":0.048},{"s":"main42","g":"IBSC","t":6,"v":0.04},{"s":"main42","g":"IBSC","t":7,"v":0.015},{"s":"main42","g":"IBSC","t":8,"v":0.032},{"s":"main42","g":"IBSC","t":10,"v":0.021},
{"s":"main01","g":"IBSD","t":1,"v":0.194},{"s":"main01","g":"IBSD","t":2,"v":0.133},{"s":"main01","g":"IBSD","t":4,"v":0.037},{"s":"main01","g":"IBSD","t":5,"v":0.048},{"s":"main01","g":"IBSD","t":6,"v":0.033},{"s":"main01","g":"IBSD","t":7,"v":0.024},{"s":"main01","g":"IBSD","t":10,"v":0.029},
{"s":"main02","g":"IBSD","t":1,"v":0.181},{"s":"main02","g":"IBSD","t":2,"v":0.057},{"s":"main02","g":"IBSD","t":3,"v":0.053},{"s":"main02","g":"IBSD","t":4,"v":0.02},{"s":"main02","g":"IBSD","t":5,"v":0.04},{"s":"main02","g":"IBSD","t":6,"v":0.037},{"s":"main02","g":"IBSD","t":7,"v":0.027},{"s":"main02","g":"IBSD","t":9,"v":0.07},
{"s":"main04","g":"IBSD","t":1,"v":0.216},{"s":"main04","g":"IBSD","t":2,"v":0.029},{"s":"main04","g":"IBSD","t":3,"v":0.13},{"s":"main04","g":"IBSD","t":4,"v":0.105},{"s":"main04","g":"IBSD","t":6,"v":0.024},{"s":"main04","g":"IBSD","t":8,"v":0.029},
{"s":"main08","g":"IBSD","t":1,"v":0.181},{"s":"main08","g":"IBSD","t":2,"v":0.181},{"s":"main08","g":"IBSD","t":3,"v":0.061},{"s":"main08","g":"IBSD","t":4,"v":0.008},{"s":"main08","g":"IBSD","t":6,"v":0.057},{"s":"main08","g":"IBSD","t":8,"v":0.029},
{"s":"main15","g":"IBSD","t":1,"v":0.207},{"s":"main15","g":"IBSD","t":2,"v":0.084},{"s":"main15","g":"IBSD","t":3,"v":0.065},{"s":"main15","g":"IBSD","t":4,"v":0.053},{"s":"main15","g":"IBSD","t":5,"v":0.048},{"s":"main15","g":"IBSD","t":6,"v":0.044},{"s":"main15","g":"IBSD","t":8,"v":0.042},
{"s":"main17","g":"IBSD","t":1,"v":0.122},{"s":"main17","g":"IBSD","t":2,"v":0.168},{"s":"main17","g":"IBSD","t":3,"v":0.058},{"s":"main17","g":"IBSD","t":5,"v":0.052},{"s":"main17","g":"IBSD","t":6,"v":0.032},{"s":"main17","g":"IBSD","t":8,"v":0.016},{"s":"main17","g":"IBSD","t":9,"v":0.061},
{"s":"main18","g":"IBSD","t":1,"v":0.27},{"s":"main18","g":"IBSD","t":2,"v":0.134},{"s":"main18","g":"IBSD","t":3,"v":0.057},{"s":"main18","g":"IBSD","t":5,"v":0.10},{"s":"main18","g":"IBSD","t":6,"v":0.042},
{"s":"main06","g":"IBSM","t":1,"v":0.227},{"s":"main06","g":"IBSM","t":2,"v":0.048},{"s":"main06","g":"IBSM","t":3,"v":0.032},{"s":"main06","g":"IBSM","t":4,"v":0.028},{"s":"main06","g":"IBSM","t":5,"v":0.061},{"s":"main06","g":"IBSM","t":6,"v":0.029},{"s":"main06","g":"IBSM","t":7,"v":0.036},{"s":"main06","g":"IBSM","t":10,"v":0.029},
{"s":"main14","g":"IBSM","t":1,"v":0.061},{"s":"main14","g":"IBSM","t":2,"v":0.062},{"s":"main14","g":"IBSM","t":3,"v":0.245},{"s":"main14","g":"IBSM","t":4,"v":0.094},
{"s":"main20","g":"IBSM","t":1,"v":0.173},{"s":"main20","g":"IBSM","t":3,"v":0.274},{"s":"main20","g":"IBSM","t":9,"v":0.102},
{"s":"main22","g":"IBSM","t":1,"v":0.21},{"s":"main22","g":"IBSM","t":2,"v":0.148},{"s":"main22","g":"IBSM","t":5,"v":0.078},{"s":"main22","g":"IBSM","t":6,"v":0.027},{"s":"main22","g":"IBSM","t":7,"v":0.041},{"s":"main22","g":"IBSM","t":8,"v":0.032},{"s":"main22","g":"IBSM","t":10,"v":0.029},
{"s":"main27","g":"IBSM","t":1,"v":0.302},{"s":"main27","g":"IBSM","t":2,"v":0.055},{"s":"main27","g":"IBSM","t":3,"v":0.112},{"s":"main27","g":"IBSM","t":5,"v":0.064},{"s":"main27","g":"IBSM","t":6,"v":0.049},{"s":"main27","g":"IBSM","t":8,"v":0.037},
{"s":"main33","g":"IBSM","t":1,"v":0.215},{"s":"main33","g":"IBSM","t":2,"v":0.028},{"s":"main33","g":"IBSM","t":3,"v":0.04},{"s":"main33","g":"IBSM","t":4,"v":0.097},{"s":"main33","g":"IBSM","t":5,"v":0.081},{"s":"main33","g":"IBSM","t":6,"v":0.061},
{"s":"main35","g":"IBSM","t":1,"v":0.266},{"s":"main35","g":"IBSM","t":2,"v":0.049},{"s":"main35","g":"IBSM","t":3,"v":0.097},{"s":"main35","g":"IBSM","t":4,"v":0.081},{"s":"main35","g":"IBSM","t":6,"v":0.061},
{"s":"main36","g":"IBSM","t":4,"v":0.333},
{"s":"main39","g":"IBSM","t":1,"v":0.173},{"s":"main39","g":"IBSM","t":2,"v":0.161},{"s":"main39","g":"IBSM","t":5,"v":0.065},{"s":"main39","g":"IBSM","t":6,"v":0.04},{"s":"main39","g":"IBSM","t":7,"v":0.024},{"s":"main39","g":"IBSM","t":8,"v":0.032},{"s":"main39","g":"IBSM","t":10,"v":0.021},
{"s":"main44","g":"IBSM","t":1,"v":0.157},{"s":"main44","g":"IBSM","t":2,"v":0.024},{"s":"main44","g":"IBSM","t":3,"v":0.181},{"s":"main44","g":"IBSM","t":4,"v":0.126},{"s":"main44","g":"IBSM","t":6,"v":0.029}
]
},
"spacing": 14,
"resolve": {"scale": {"x": "independent", "y": "independent", "color": "independent", "shape": "independent"}, "legend": {"color": "independent", "shape": "independent"}},
"vconcat": [
{
 "hconcat": [
 {
  "title": {"text": "A", "fontSize": 34, "dy": 29},
  "width": 283, "height": 209,
  "view": {"fill": "#2E5A85"},
  "data": {"name": "heat"},
  "mark": {"type": "rect"},
  "encoding": {
   "x": {"field": "c", "type": "ordinal", "axis": {"title": null, "labelExpr": "['healthy01','healthy02','healthy03','healthy04','healthy05','healthy06','healthy07','healthy08','healthy09','healthy10','healthy11','healthy12','healthy13','healthy14','healthy15','healthy16','healthy17','healthy18','healthy19','healthy20','main03','main05','main09','main10','main12','main19','main41','main42','main01','main02','main04','main08','main15','main17','main18','main06','main14','main20','main22','main27','main33','main35','main36','main39','main44'][datum.value-1]", "labelAngle": -90, "labelFontSize": 4.5, "labelColor": "#4D4D4D", "tickSize": 2, "tickColor": "#4D4D4D", "domain": false, "labelPadding": 1}},
   "y": {"field": "r", "type": "ordinal", "axis": {"title": "Genus", "titleFontSize": 8, "titlePadding": 3, "labelExpr": "['Betabaculovirus','Alphabaculovirus','Baculoviridae*','Marseillevirus','Marseilleviridae*','Iridovirus','Irodoviridae*','Phycodnaviridae*','Cafeteriavirus','Mimivirus','Mimiviridae*','Pandoravirus','Betaentomopoxvirus','Alphaentomopoxvirus','Entomopoxvirinae*','Avipoxvirus','Poxviridae*','Simplexvirus','Unclassified*','Herpesvirales*','Siphoviridae*','Podoviridae*','Tequatrovirus','Myoviridae*','Caudovirales*'][datum.value-1]", "labelFontSize": 6, "labelFontStyle": "italic", "labelFontWeight": "bold", "labelColor": "#333333", "tickSize": 2, "tickColor": "#4D4D4D", "domain": false, "labelPadding": 1}},
   "color": {
    "condition": {"test": "datum.v === 0", "value": "#000000"},
    "field": "v", "type": "quantitative",
    "scale": {"domain": [0.6, 9.66], "range": ["#132B43", "#56B1F7"], "interpolate": "lab"},
    "legend": {"title": "Relative abundance", "orient": "none", "legendX": 289, "legendY": 74, "direction": "vertical", "gradientLength": 52, "gradientThickness": 10, "values": [3, 4.92, 6.96, 8.96], "labelExpr": "datum.value < 4 ? '0.004' : datum.value < 6 ? '0.015' : datum.value < 8 ? '0.062' : '0.250'", "titleFontSize": 7, "labelFontSize": 5.5, "labelColor": "#4D4D4D", "titlePadding": 4}
   }
  }
 },
 {
  "title": {"text": "B", "dx": 9, "dy": 22, "frame": "group"},
  "width": 323, "height": 204,
  "data": {"name": "samples"},
  "resolve": {"scale": {"x": "independent"}, "axis": {"x": "independent"}},
  "layer": [
   {"transform": [{"filter": "datum.g === 'IBSC'"}, {"density": "val", "bandwidth": 0.17, "extent": [0.82, 3.06], "steps": 100, "as": ["val", "density"]}], "mark": {"type": "area", "orient": "horizontal", "color": "#9999FF"}, "encoding": {"y": {"field": "val", "type": "quantitative", "scale": {"domain": [-0.72, 4.67], "nice": false, "zero": false}, "title": "Shannon diversity of megavirales"}, "x": {"field": "density", "type": "quantitative", "stack": null, "scale": {"domain": [-1.872, 11.228], "nice": false, "zero": false}, "axis": null}}},
   {"transform": [{"filter": "datum.g === 'IBSC'"}, {"density": "val", "bandwidth": 0.17, "extent": [0.82, 3.06], "steps": 100, "as": ["val", "density"]}], "mark": {"type": "area", "orient": "horizontal", "color": "#9999FF"}, "encoding": {"y": {"field": "val", "type": "quantitative", "scale": {"domain": [-0.72, 4.67], "nice": false, "zero": false}, "title": "Shannon diversity of megavirales"}, "x": {"field": "density", "type": "quantitative", "stack": null, "scale": {"domain": [-11.228, 1.872], "nice": false, "zero": false, "reverse": true}, "axis": null}}},
   {"transform": [{"filter": "datum.g === 'IBSC'"}, {"density": "val", "bandwidth": 0.17, "extent": [0.82, 3.06], "steps": 100, "as": ["val", "density"]}], "mark": {"type": "line", "color": "#333333", "strokeWidth": 0.6}, "encoding": {"y": {"field": "val", "type": "quantitative", "scale": {"domain": [-0.72, 4.67], "nice": false, "zero": false}, "title": "Shannon diversity of megavirales"}, "x": {"field": "density", "type": "quantitative", "scale": {"domain": [-1.872, 11.228], "nice": false, "zero": false}, "axis": null}, "order": {"field": "val", "type": "quantitative"}}},
   {"transform": [{"filter": "datum.g === 'IBSC'"}, {"density": "val", "bandwidth": 0.17, "extent": [0.82, 3.06], "steps": 100, "as": ["val", "density"]}], "mark": {"type": "line", "color": "#333333", "strokeWidth": 0.6}, "encoding": {"y": {"field": "val", "type": "quantitative", "scale": {"domain": [-0.72, 4.67], "nice": false, "zero": false}, "title": "Shannon diversity of megavirales"}, "x": {"field": "density", "type": "quantitative", "scale": {"domain": [-11.228, 1.872], "nice": false, "zero": false, "reverse": true}, "axis": null}, "order": {"field": "val", "type": "quantitative"}}},

   {"transform": [{"filter": "datum.g === 'IBSM'"}, {"density": "val", "bandwidth": 0.17, "extent": [-0.51, 3.01], "steps": 120, "as": ["val", "density"]}], "mark": {"type": "area", "orient": "horizontal", "color": "#66FF66"}, "encoding": {"y": {"field": "val", "type": "quantitative", "scale": {"domain": [-0.72, 4.67], "nice": false, "zero": false}, "title": "Shannon diversity of megavirales"}, "x": {"field": "density", "type": "quantitative", "stack": null, "scale": {"domain": [-4.317, 7.013], "nice": false, "zero": false}, "axis": null}}},
   {"transform": [{"filter": "datum.g === 'IBSM'"}, {"density": "val", "bandwidth": 0.17, "extent": [-0.51, 3.01], "steps": 120, "as": ["val", "density"]}], "mark": {"type": "area", "orient": "horizontal", "color": "#66FF66"}, "encoding": {"y": {"field": "val", "type": "quantitative", "scale": {"domain": [-0.72, 4.67], "nice": false, "zero": false}, "title": "Shannon diversity of megavirales"}, "x": {"field": "density", "type": "quantitative", "stack": null, "scale": {"domain": [-7.013, 4.317], "nice": false, "zero": false, "reverse": true}, "axis": null}}},
   {"transform": [{"filter": "datum.g === 'IBSM'"}, {"density": "val", "bandwidth": 0.17, "extent": [-0.51, 3.01], "steps": 120, "as": ["val", "density"]}], "mark": {"type": "line", "color": "#333333", "strokeWidth": 0.6}, "encoding": {"y": {"field": "val", "type": "quantitative", "scale": {"domain": [-0.72, 4.67], "nice": false, "zero": false}, "title": "Shannon diversity of megavirales"}, "x": {"field": "density", "type": "quantitative", "scale": {"domain": [-4.317, 7.013], "nice": false, "zero": false}, "axis": null}, "order": {"field": "val", "type": "quantitative"}}},
   {"transform": [{"filter": "datum.g === 'IBSM'"}, {"density": "val", "bandwidth": 0.17, "extent": [-0.51, 3.01], "steps": 120, "as": ["val", "density"]}], "mark": {"type": "line", "color": "#333333", "strokeWidth": 0.6}, "encoding": {"y": {"field": "val", "type": "quantitative", "scale": {"domain": [-0.72, 4.67], "nice": false, "zero": false}, "title": "Shannon diversity of megavirales"}, "x": {"field": "density", "type": "quantitative", "scale": {"domain": [-7.013, 4.317], "nice": false, "zero": false, "reverse": true}, "axis": null}, "order": {"field": "val", "type": "quantitative"}}},

   {"transform": [{"filter": "datum.g === 'IBSD'"}, {"density": "val", "bandwidth": 0.27, "extent": [0.3, 3.18], "steps": 100, "as": ["val", "density"]}], "mark": {"type": "area", "orient": "horizontal", "color": "#008080"}, "encoding": {"y": {"field": "val", "type": "quantitative", "scale": {"domain": [-0.72, 4.67], "nice": false, "zero": false}, "title": "Shannon diversity of megavirales"}, "x": {"field": "density", "type": "quantitative", "stack": null, "scale": {"domain": [-8.357, 5.143], "nice": false, "zero": false}, "axis": null}}},
   {"transform": [{"filter": "datum.g === 'IBSD'"}, {"density": "val", "bandwidth": 0.27, "extent": [0.3, 3.18], "steps": 100, "as": ["val", "density"]}], "mark": {"type": "area", "orient": "horizontal", "color": "#008080"}, "encoding": {"y": {"field": "val", "type": "quantitative", "scale": {"domain": [-0.72, 4.67], "nice": false, "zero": false}, "title": "Shannon diversity of megavirales"}, "x": {"field": "density", "type": "quantitative", "stack": null, "scale": {"domain": [-5.143, 8.357], "nice": false, "zero": false, "reverse": true}, "axis": null}}},
   {"transform": [{"filter": "datum.g === 'IBSD'"}, {"density": "val", "bandwidth": 0.27, "extent": [0.3, 3.18], "steps": 100, "as": ["val", "density"]}], "mark": {"type": "line", "color": "#333333", "strokeWidth": 0.6}, "encoding": {"y": {"field": "val", "type": "quantitative", "scale": {"domain": [-0.72, 4.67], "nice": false, "zero": false}, "title": "Shannon diversity of megavirales"}, "x": {"field": "density", "type": "quantitative", "scale": {"domain": [-8.357, 5.143], "nice": false, "zero": false}, "axis": null}, "order": {"field": "val", "type": "quantitative"}}},
   {"transform": [{"filter": "datum.g === 'IBSD'"}, {"density": "val", "bandwidth": 0.27, "extent": [0.3, 3.18], "steps": 100, "as": ["val", "density"]}], "mark": {"type": "line", "color": "#333333", "strokeWidth": 0.6}, "encoding": {"y": {"field": "val", "type": "quantitative", "scale": {"domain": [-0.72, 4.67], "nice": false, "zero": false}, "title": "Shannon diversity of megavirales"}, "x": {"field": "density", "type": "quantitative", "scale": {"domain": [-5.143, 8.357], "nice": false, "zero": false, "reverse": true}, "axis": null}, "order": {"field": "val", "type": "quantitative"}}},

   {"transform": [{"filter": "datum.g === 'Healthy'"}, {"density": "val", "bandwidth": 0.12, "extent": [1.36, 2.92], "steps": 100, "as": ["val", "density"]}], "mark": {"type": "area", "orient": "horizontal", "color": "#FFFF00"}, "encoding": {"y": {"field": "val", "type": "quantitative", "scale": {"domain": [-0.72, 4.67], "nice": false, "zero": false}, "title": "Shannon diversity of megavirales"}, "x": {"field": "density", "type": "quantitative", "stack": null, "scale": {"domain": [-9.941, 1.659], "nice": false, "zero": false}, "axis": null}}},
   {"transform": [{"filter": "datum.g === 'Healthy'"}, {"density": "val", "bandwidth": 0.12, "extent": [1.36, 2.92], "steps": 100, "as": ["val", "density"]}], "mark": {"type": "area", "orient": "horizontal", "color": "#FFFF00"}, "encoding": {"y": {"field": "val", "type": "quantitative", "scale": {"domain": [-0.72, 4.67], "nice": false, "zero": false}, "title": "Shannon diversity of megavirales"}, "x": {"field": "density", "type": "quantitative", "stack": null, "scale": {"domain": [-1.659, 9.941], "nice": false, "zero": false, "reverse": true}, "axis": null}}},
   {"transform": [{"filter": "datum.g === 'Healthy'"}, {"density": "val", "bandwidth": 0.12, "extent": [1.36, 2.92], "steps": 100, "as": ["val", "density"]}], "mark": {"type": "line", "color": "#333333", "strokeWidth": 0.6}, "encoding": {"y": {"field": "val", "type": "quantitative", "scale": {"domain": [-0.72, 4.67], "nice": false, "zero": false}, "title": "Shannon diversity of megavirales"}, "x": {"field": "density", "type": "quantitative", "scale": {"domain": [-9.941, 1.659], "nice": false, "zero": false}, "axis": null}, "order": {"field": "val", "type": "quantitative"}}},
   {"transform": [{"filter": "datum.g === 'Healthy'"}, {"density": "val", "bandwidth": 0.12, "extent": [1.36, 2.92], "steps": 100, "as": ["val", "density"]}], "mark": {"type": "line", "color": "#333333", "strokeWidth": 0.6}, "encoding": {"y": {"field": "val", "type": "quantitative", "scale": {"domain": [-0.72, 4.67], "nice": false, "zero": false}, "title": "Shannon diversity of megavirales"}, "x": {"field": "density", "type": "quantitative", "scale": {"domain": [-1.659, 9.941], "nice": false, "zero": false, "reverse": true}, "axis": null}, "order": {"field": "val", "type": "quantitative"}}},

   {"mark": {"type": "boxplot", "extent": 1.5, "size": 15, "box": {"fill": "#FFFFFF", "stroke": "#222222", "strokeWidth": 0.7}, "median": {"color": "#111111", "strokeWidth": 1.6}, "rule": {"color": "#222222", "strokeWidth": 0.7}, "ticks": false, "outliers": {"color": "#000000", "filled": true, "size": 8, "opacity": 1}},
    "encoding": {
     "x": {"field": "g", "type": "nominal", "scale": {"domain": ["IBSC", "IBSM", "IBSD", "Healthy"], "paddingInner": 0, "paddingOuter": 0.1}, "axis": {"title": null, "labelAngle": 0, "labelFontSize": 6.5, "labelColor": "#333333", "tickColor": "#333333", "domainColor": "#333333", "tickSize": 3, "labelPadding": 2}},
     "y": {"field": "val", "type": "quantitative", "scale": {"domain": [-0.72, 4.67], "nice": false, "zero": false}, "title": "Shannon diversity of megavirales", "axis": {"values": [0, 1, 2, 3, 4], "labelFontSize": 6.5, "titleFontSize": 7.5, "grid": false, "tickSize": 3, "domainColor": "#333333", "tickColor": "#333333", "labelColor": "#333333", "titlePadding": 4, "labelPadding": 2}}
    }},

   {"data": {"values": [{"xq": 2, "xq2": 4, "val": 3.28, "val2": 3.28}, {"xq": 2, "xq2": 2, "val": 3.28, "val2": 3.18}, {"xq": 4, "xq2": 4, "val": 3.28, "val2": 3.18}, {"xq": 3, "xq2": 4, "val": 2.97, "val2": 2.97}, {"xq": 3, "xq2": 3, "val": 2.97, "val2": 2.87}, {"xq": 4, "xq2": 4, "val": 2.97, "val2": 2.87}, {"xq": 1, "xq2": 4, "val": 2.66, "val2": 2.66}, {"xq": 1, "xq2": 1, "val": 2.66, "val2": 2.56}, {"xq": 4, "xq2": 4, "val": 2.66, "val2": 2.56}]},
    "mark": {"type": "rule", "color": "#555555", "strokeWidth": 0.7},
    "encoding": {"x": {"field": "xq", "type": "quantitative", "scale": {"domain": [0.4, 4.6], "nice": false, "zero": false}, "axis": null}, "x2": {"field": "xq2"}, "y": {"field": "val", "type": "quantitative", "scale": {"domain": [-0.72, 4.67], "nice": false, "zero": false}, "title": "Shannon diversity of megavirales"}, "y2": {"field": "val2"}}},
   {"data": {"values": [{"xq": 3, "val": 3.31, "t": "0.0041"}, {"xq": 3.5, "val": 3.0, "t": "0.019"}, {"xq": 2.5, "val": 2.69, "t": "0.12"}]},
    "mark": {"type": "text", "fontSize": 5.5, "color": "#333333", "baseline": "bottom"},
    "encoding": {"x": {"field": "xq", "type": "quantitative", "scale": {"domain": [0.4, 4.6], "nice": false, "zero": false}, "axis": null}, "y": {"field": "val", "type": "quantitative", "scale": {"domain": [-0.72, 4.67], "nice": false, "zero": false}, "title": "Shannon diversity of megavirales"}, "text": {"field": "t"}}},
   {"data": {"values": [{"xq": 0.81, "val": 4.0, "t": "Kruskal–Wallis, p = 0.0085"}]},
    "mark": {"type": "text", "fontSize": 6.5, "color": "#222222", "align": "left", "baseline": "middle"},
    "encoding": {"x": {"field": "xq", "type": "quantitative", "scale": {"domain": [0.4, 4.6], "nice": false, "zero": false}, "axis": null}, "y": {"field": "val", "type": "quantitative", "scale": {"domain": [-0.72, 4.67], "nice": false, "zero": false}, "title": "Shannon diversity of megavirales"}, "text": {"field": "t"}}}
  ]
 }
 ],
 "spacing": 2,
 "resolve": {"scale": {"x": "independent", "y": "independent", "color": "independent", "shape": "independent"}, "legend": {"color": "independent", "shape": "independent"}}
},
{
 "hconcat": [
 {
  "title": {"text": "C", "dx": -22, "dy": 39, "frame": "group"},
  "width": 299, "height": 190,
  "layer": [
   {"data": {"values": [{"set": "Healthy", "x": 0.35, "y": 0.47}, {"set": "IBSD", "x": 0.5, "y": 0.57}, {"set": "IBSM", "x": 0.5, "y": 0.57}, {"set": "IBSC", "x": 0.65, "y": 0.47}]},
    "mark": {"type": "point", "filled": true, "size": 34596, "opacity": 0.5, "strokeWidth": 0},
    "encoding": {
     "x": {"field": "x", "type": "quantitative", "scale": {"domain": [0.0113, 1.1353], "nice": false, "zero": false}, "axis": null},
     "y": {"field": "y", "type": "quantitative", "scale": {"domain": [0.1452, 0.8595], "nice": false, "zero": false}, "axis": null},
     "shape": {"field": "set", "type": "nominal", "scale": {"domain": ["Healthy", "IBSD", "IBSM", "IBSC"], "range": ["M0.7071,0.7071C0.5056,0.9086,0.0256,0.7554,-0.3649,0.3649C-0.7554,-0.0256,-0.9086,-0.5056,-0.7071,-0.7071C-0.5056,-0.9086,-0.0256,-0.7554,0.3649,-0.3649C0.7554,0.0256,0.9086,0.5056,0.7071,0.7071Z", "M0.7071,0.7071C0.5056,0.9086,0.0256,0.7554,-0.3649,0.3649C-0.7554,-0.0256,-0.9086,-0.5056,-0.7071,-0.7071C-0.5056,-0.9086,-0.0256,-0.7554,0.3649,-0.3649C0.7554,0.0256,0.9086,0.5056,0.7071,0.7071Z", "M-0.7071,0.7071C-0.5056,0.9086,-0.0256,0.7554,0.3649,0.3649C0.7554,-0.0256,0.9086,-0.5056,0.7071,-0.7071C0.5056,-0.9086,0.0256,-0.7554,-0.3649,-0.3649C-0.7554,0.0256,-0.9086,0.5056,-0.7071,0.7071Z", "M-0.7071,0.7071C-0.5056,0.9086,-0.0256,0.7554,0.3649,0.3649C0.7554,-0.0256,0.9086,-0.5056,0.7071,-0.7071C0.5056,-0.9086,0.0256,-0.7554,-0.3649,-0.3649C-0.7554,0.0256,-0.9086,0.5056,-0.7071,0.7071Z"]}, "legend": null},
     "color": {"field": "set", "type": "nominal", "scale": {"domain": ["Healthy", "IBSD", "IBSM", "IBSC"], "range": ["#FFA500", "#00FF00", "#0000FF", "#FF0000"]}, "legend": null}
    }},
   {"data": {"values": [{"set": "Healthy", "x": 0.35, "y": 0.47}, {"set": "IBSD", "x": 0.5, "y": 0.57}, {"set": "IBSM", "x": 0.5, "y": 0.57}, {"set": "IBSC", "x": 0.65, "y": 0.47}]},
    "mark": {"type": "point", "filled": false, "size": 34596, "stroke": "#000000", "strokeDash": [3, 2], "strokeWidth": 1, "opacity": 1},
    "encoding": {
     "x": {"field": "x", "type": "quantitative", "scale": {"domain": [0.0113, 1.1353], "nice": false, "zero": false}, "axis": null},
     "y": {"field": "y", "type": "quantitative", "scale": {"domain": [0.1452, 0.8595], "nice": false, "zero": false}, "axis": null},
     "shape": {"field": "set", "type": "nominal", "legend": null}
    }},
   {"data": {"values": [{"x": 0.346, "y": 0.773, "n": "0"}, {"x": 0.654, "y": 0.773, "n": "0"}, {"x": 0.177, "y": 0.581, "n": "1"}, {"x": 0.823, "y": 0.581, "n": "0"}, {"x": 0.308, "y": 0.672, "n": "0"}, {"x": 0.5, "y": 0.694, "n": "0"}, {"x": 0.692, "y": 0.672, "n": "0"}, {"x": 0.398, "y": 0.581, "n": "0"}, {"x": 0.602, "y": 0.581, "n": "0"}, {"x": 0.5, "y": 0.472, "n": "32"}, {"x": 0.316, "y": 0.416, "n": "0"}, {"x": 0.684, "y": 0.416, "n": "1"}, {"x": 0.423, "y": 0.378, "n": "6"}, {"x": 0.577, "y": 0.378, "n": "1"}, {"x": 0.5, "y": 0.277, "n": "2"}]},
    "mark": {"type": "text", "font": "Liberation Serif", "fontSize": 10, "color": "#333333"},
    "encoding": {
     "x": {"field": "x", "type": "quantitative", "scale": {"domain": [0.0113, 1.1353], "nice": false, "zero": false}, "axis": null},
     "y": {"field": "y", "type": "quantitative", "scale": {"domain": [0.1452, 0.8595], "nice": false, "zero": false}, "axis": null},
     "text": {"field": "n"}
    }},
   {"data": {"values": [{"set": "Healthy", "x": 0.117, "y": 0.799}, {"set": "IBSD", "x": 0.346, "y": 0.901}, {"set": "IBSM", "x": 0.654, "y": 0.901}, {"set": "IBSC", "x": 0.883, "y": 0.799}]},
    "mark": {"type": "text", "font": "Liberation Serif", "fontSize": 10, "opacity": 0.7},
    "encoding": {
     "x": {"field": "x", "type": "quantitative", "scale": {"domain": [0.0113, 1.1353], "nice": false, "zero": false}, "axis": null},
     "y": {"field": "y", "type": "quantitative", "scale": {"domain": [0.1452, 0.8595], "nice": false, "zero": false}, "axis": null},
     "text": {"field": "set"},
     "color": {"field": "set", "type": "nominal", "legend": null}
    }}
  ]
 },
 {
  "title": {"text": "D", "dx": -13, "dy": 27},
  "vconcat": [
   {
    "hconcat": [
     {"width": 82, "height": 149, "view": {"fill": "#EBEBEB"},
      "layer": [
       {"data": {"name": "tax"}, "transform": [{"filter": "datum.g === 'Healthy'"}], "mark": {"type": "bar"},
        "encoding": {
         "x": {"field": "s", "type": "nominal", "scale": {"paddingInner": 0.1, "paddingOuter": 0.15}, "axis": {"title": null, "labelAngle": -45, "labelFontSize": 4.5, "labelColor": "#4D4D4D", "tickSize": 2, "tickColor": "#4D4D4D", "domain": false, "grid": true, "gridColor": "#FFFFFF", "gridWidth": 0.8, "bandPosition": 0.5, "labelOverlap": false, "labelPadding": 1}},
         "y": {"field": "v", "type": "quantitative", "stack": "zero", "scale": {"domain": [-0.019, 0.703], "nice": false, "zero": false}, "axis": {"values": [0, 0.1, 0.2, 0.3, 0.4, 0.5, 0.6], "format": ".0%", "labelExpr": "round(datum.value*10) % 2 === 1 ? '' : datum.label", "title": "Relative Abundance", "titleFontSize": 7.5, "titlePadding": 3, "labelFontSize": 5.5, "labelColor": "#4D4D4D", "labelPadding": 1, "tickSize": 2, "tickColor": {"condition": {"test": "round(datum.value*10) % 2 === 1", "value": "transparent"}, "value": "#4D4D4D"}, "domain": false, "grid": true, "gridColor": "#FFFFFF", "gridWidth": {"condition": {"test": "round(datum.value*10) % 2 === 1", "value": 0.4}, "value": 0.9}}},
         "color": {"field": "t", "type": "nominal", "scale": {"domain": [1, 3, 5, 7, 9, 2, 4, 6, 8, 10], "range": ["#8DD3C7", "#BEBADA", "#80B1D3", "#B3DE69", "#D9D9D9", "#FFFFB3", "#FB8072", "#FDB462", "#FCCDE5", "#BC80BD"]}, "legend": {"title": "Taxon", "orient": "none", "legendX": 21, "legendY": 177, "direction": "horizontal", "columns": 5, "titleOrient": "left", "titleFontSize": 6.5, "titlePadding": 6, "labelFontSize": 4.8, "labelColor": "#333333", "labelOffset": 3, "symbolType": "square", "symbolSize": 55, "symbolStrokeWidth": 0, "columnPadding": 5, "rowPadding": 5, "labelExpr": "['Un_Mimiviridae','Betaentomopoxvirus','Pandoravirus','Marseillevirus','Cafeteriavirus','Un_Mimivirus','Iridovirus','Mimivirus','Alphaentomopoxvirus','Chrysochromulina.ericina.virus'][datum.value-1]"}},
         "order": {"field": "t", "type": "quantitative", "sort": "descending"}
        }},
       {"data": {"values": [{}]}, "mark": {"type": "rect", "color": "#D9D9D9"}, "encoding": {"y": {"datum": 0.662, "type": "quantitative"}, "y2": {"datum": 0.703}}},
       {"data": {"values": [{}]}, "mark": {"type": "text", "text": "Healthy", "fontSize": 5.5, "color": "#1A1A1A"}, "encoding": {"y": {"datum": 0.683, "type": "quantitative"}}}
      ]},
     {"width": 82, "height": 149, "view": {"fill": "#EBEBEB"},
      "layer": [
       {"data": {"name": "tax"}, "transform": [{"filter": "datum.g === 'IBSC'"}], "mark": {"type": "bar"},
        "encoding": {
         "x": {"field": "s", "type": "nominal", "scale": {"paddingInner": 0.1, "paddingOuter": 0.15}, "axis": {"title": null, "labelAngle": -45, "labelFontSize": 4.5, "labelColor": "#4D4D4D", "tickSize": 2, "tickColor": "#4D4D4D", "domain": false, "grid": true, "gridColor": "#FFFFFF", "gridWidth": 0.8, "bandPosition": 0.5, "labelOverlap": false, "labelPadding": 1}},
         "y": {"field": "v", "type": "quantitative", "stack": "zero", "scale": {"domain": [-0.019, 0.703], "nice": false, "zero": false}, "axis": {"values": [0, 0.1, 0.2, 0.3, 0.4, 0.5, 0.6], "labels": false, "ticks": false, "domain": false, "title": null, "grid": true, "gridColor": "#FFFFFF", "gridWidth": {"condition": {"test": "round(datum.value*10) % 2 === 1", "value": 0.4}, "value": 0.9}}},
         "color": {"field": "t", "type": "nominal", "scale": {"domain": [1, 3, 5, 7, 9, 2, 4, 6, 8, 10], "range": ["#8DD3C7", "#BEBADA", "#80B1D3", "#B3DE69", "#D9D9D9", "#FFFFB3", "#FB8072", "#FDB462", "#FCCDE5", "#BC80BD"]}},
         "order": {"field": "t", "type": "quantitative", "sort": "descending"}
        }},
       {"data": {"values": [{}]}, "mark": {"type": "rect", "color": "#D9D9D9"}, "encoding": {"y": {"datum": 0.662, "type": "quantitative"}, "y2": {"datum": 0.703}}},
       {"data": {"values": [{}]}, "mark": {"type": "text", "text": "IBSC", "fontSize": 5.5, "color": "#1A1A1A"}, "encoding": {"y": {"datum": 0.683, "type": "quantitative"}}}
      ]},
     {"width": 82, "height": 149, "view": {"fill": "#EBEBEB"},
      "layer": [
       {"data": {"name": "tax"}, "transform": [{"filter": "datum.g === 'IBSD'"}], "mark": {"type": "bar"},
        "encoding": {
         "x": {"field": "s", "type": "nominal", "scale": {"paddingInner": 0.1, "paddingOuter": 0.15}, "axis": {"title": null, "labelAngle": -45, "labelFontSize": 4.5, "labelColor": "#4D4D4D", "tickSize": 2, "tickColor": "#4D4D4D", "domain": false, "grid": true, "gridColor": "#FFFFFF", "gridWidth": 0.8, "bandPosition": 0.5, "labelOverlap": false, "labelPadding": 1}},
         "y": {"field": "v", "type": "quantitative", "stack": "zero", "scale": {"domain": [-0.019, 0.703], "nice": false, "zero": false}, "axis": {"values": [0, 0.1, 0.2, 0.3, 0.4, 0.5, 0.6], "labels": false, "ticks": false, "domain": false, "title": null, "grid": true, "gridColor": "#FFFFFF", "gridWidth": {"condition": {"test": "round(datum.value*10) % 2 === 1", "value": 0.4}, "value": 0.9}}},
         "color": {"field": "t", "type": "nominal", "scale": {"domain": [1, 3, 5, 7, 9, 2, 4, 6, 8, 10], "range": ["#8DD3C7", "#BEBADA", "#80B1D3", "#B3DE69", "#D9D9D9", "#FFFFB3", "#FB8072", "#FDB462", "#FCCDE5", "#BC80BD"]}},
         "order": {"field": "t", "type": "quantitative", "sort": "descending"}
        }},
       {"data": {"values": [{}]}, "mark": {"type": "rect", "color": "#D9D9D9"}, "encoding": {"y": {"datum": 0.662, "type": "quantitative"}, "y2": {"datum": 0.703}}},
       {"data": {"values": [{}]}, "mark": {"type": "text", "text": "IBSD", "fontSize": 5.5, "color": "#1A1A1A"}, "encoding": {"y": {"datum": 0.683, "type": "quantitative"}}}
      ]},
     {"width": 82, "height": 149, "view": {"fill": "#EBEBEB"},
      "layer": [
       {"data": {"name": "tax"}, "transform": [{"filter": "datum.g === 'IBSM'"}], "mark": {"type": "bar"},
        "encoding": {
         "x": {"field": "s", "type": "nominal", "scale": {"paddingInner": 0.1, "paddingOuter": 0.15}, "axis": {"title": null, "labelAngle": -45, "labelFontSize": 4.5, "labelColor": "#4D4D4D", "tickSize": 2, "tickColor": "#4D4D4D", "domain": false, "grid": true, "gridColor": "#FFFFFF", "gridWidth": 0.8, "bandPosition": 0.5, "labelOverlap": false, "labelPadding": 1}},
         "y": {"field": "v", "type": "quantitative", "stack": "zero", "scale": {"domain": [-0.019, 0.703], "nice": false, "zero": false}, "axis": {"values": [0, 0.1, 0.2, 0.3, 0.4, 0.5, 0.6], "labels": false, "ticks": false, "domain": false, "title": null, "grid": true, "gridColor": "#FFFFFF", "gridWidth": {"condition": {"test": "round(datum.value*10) % 2 === 1", "value": 0.4}, "value": 0.9}}},
         "color": {"field": "t", "type": "nominal", "scale": {"domain": [1, 3, 5, 7, 9, 2, 4, 6, 8, 10], "range": ["#8DD3C7", "#BEBADA", "#80B1D3", "#B3DE69", "#D9D9D9", "#FFFFB3", "#FB8072", "#FDB462", "#FCCDE5", "#BC80BD"]}},
         "order": {"field": "t", "type": "quantitative", "sort": "descending"}
        }},
       {"data": {"values": [{}]}, "mark": {"type": "rect", "color": "#D9D9D9"}, "encoding": {"y": {"datum": 0.662, "type": "quantitative"}, "y2": {"datum": 0.703}}},
       {"data": {"values": [{}]}, "mark": {"type": "text", "text": "IBSM", "fontSize": 5.5, "color": "#1A1A1A"}, "encoding": {"y": {"datum": 0.683, "type": "quantitative"}}}
      ]},
     {"width": 9, "height": 149,
      "layer": [
       {"data": {"values": [{}]}, "mark": {"type": "rect", "color": "#D9D9D9"}, "encoding": {"y": {"datum": -0.019, "type": "quantitative", "scale": {"domain": [-0.019, 0.703], "nice": false, "zero": false}, "axis": null}, "y2": {"datum": 0.655}}},
       {"data": {"values": [{}]}, "mark": {"type": "text", "text": "data", "fontSize": 5.5, "angle": 90, "color": "#1A1A1A"}, "encoding": {"y": {"datum": 0.318, "type": "quantitative", "axis": null}}}
      ]}
    ],
    "spacing": 3,
    "bounds": "flush",
    "resolve": {"scale": {"y": "shared", "x": "independent", "color": "shared"}, "axis": {"x": "independent", "y": "independent"}}
   },
   {"width": 337, "height": 2, "data": {"values": [{}]}, "mark": {"type": "text", "text": "Samples", "fontSize": 7.5, "color": "#1A1A1A"}, "encoding": {}}
  ],
  "spacing": -4,
  "resolve": {"scale": {"color": "shared", "x": "independent", "y": "independent"}, "legend": {"color": "shared"}}
 }
 ],
 "spacing": 4,
 "resolve": {"scale": {"x": "independent", "y": "independent", "color": "independent", "shape": "independent"}, "legend": {"color": "independent", "shape": "independent"}}
}
]
}
